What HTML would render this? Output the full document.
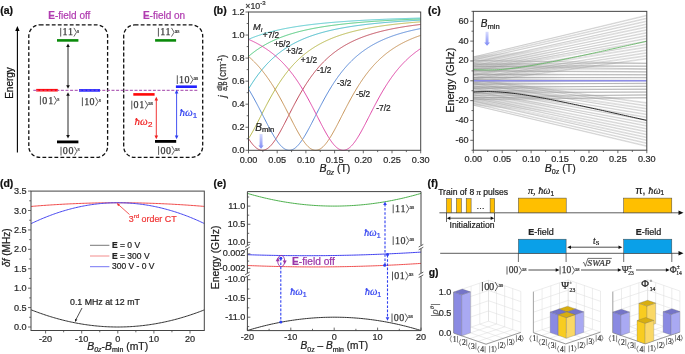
<!DOCTYPE html><html><head><meta charset="utf-8"><style>html,body{margin:0;padding:0;background:#fff;}svg{display:block;will-change:transform;}</style></head><body>
<svg width="685" height="354" viewBox="0 0 685 354">
<defs><linearGradient id="gblue" x1="0" y1="0" x2="0" y2="1"><stop offset="0" stop-color="#D8DCFF"/><stop offset="1" stop-color="#7C88F4"/></linearGradient><linearGradient id="hazec" x1="0" y1="0" x2="1" y2="0"><stop offset="0" stop-color="#999" stop-opacity="0.32"/><stop offset="0.5" stop-color="#999" stop-opacity="0.2"/><stop offset="1" stop-color="#999" stop-opacity="0"/></linearGradient></defs>
<rect width="685" height="354" fill="#fff"/>
<text x="0.2" y="14.4" font-size="10.4" text-anchor="start" font-family='"Liberation Sans", sans-serif' fill="#111" font-weight="bold" font-style="normal"  stroke="#111" stroke-width="0.22">(a)</text>
<line x1="17.4" y1="152.4" x2="17.4" y2="30" stroke="#000" stroke-width="1.1" />
<path d="M17.4,26 L19.6,31 L15.2,31 Z" fill="#000"/>
<text x="0" y="0" font-size="10" text-anchor="middle" font-family='"Liberation Sans", sans-serif' fill="#111" font-weight="normal" font-style="normal" transform="translate(13.3,83) rotate(-90)" stroke="#111" stroke-width="0.22">Energy</text>
<text x="69.3" y="18.5" font-size="10" text-anchor="middle" font-family='"Liberation Sans", sans-serif' fill="#B03CB0" stroke="#B03CB0" stroke-width="0.22"><tspan font-weight="bold">E</tspan>-field off</text>
<text x="164" y="18.5" font-size="10" text-anchor="middle" font-family='"Liberation Sans", sans-serif' fill="#B03CB0" stroke="#B03CB0" stroke-width="0.22"><tspan font-weight="bold">E</tspan>-field on</text>
<rect x="28.8" y="24.9" width="78.8" height="132.5" rx="11" ry="11" fill="none" stroke="#111" stroke-width="1.3" stroke-dasharray="3.8,2.2"/>
<rect x="123.7" y="24.9" width="79" height="132.5" rx="11" ry="11" fill="none" stroke="#111" stroke-width="1.3" stroke-dasharray="3.8,2.2"/>
<line x1="33.3" y1="90.3" x2="198.2" y2="90.3" stroke="#A040A8" stroke-width="1.0" stroke-dasharray="3,1.6"/>
<line x1="57" y1="40.4" x2="78.4" y2="40.4" stroke="#0A8A0A" stroke-width="2.6" />
<line x1="36.2" y1="90.2" x2="57.8" y2="90.2" stroke="#FF0808" stroke-width="2.6" />
<line x1="79" y1="90.4" x2="100" y2="90.4" stroke="#2222FF" stroke-width="2.6" />
<line x1="57" y1="141.9" x2="78.4" y2="141.9" stroke="#000" stroke-width="2.8" />
<line x1="36" y1="90.3" x2="58" y2="90.3" stroke="#D070D0" stroke-width="0.6" stroke-dasharray="2.5,1.6"/>
<line x1="79" y1="90.3" x2="100" y2="90.3" stroke="#B070D0" stroke-width="0.6" stroke-dasharray="2.5,1.6"/>
<line x1="68" y1="46" x2="68" y2="86" stroke="#111" stroke-width="0.9" />
<path d="M68,43.4 L69.8,47 L66.2,47 Z" fill="#111"/>
<path d="M68,88.8 L66.2,85.2 L69.8,85.2 Z" fill="#111"/>
<line x1="68" y1="95" x2="68" y2="136" stroke="#111" stroke-width="0.9" />
<path d="M68,92.2 L69.8,95.8 L66.2,95.8 Z" fill="#111"/>
<path d="M68,138.6 L66.2,135 L69.8,135 Z" fill="#111"/>
<line x1="155.1" y1="40.4" x2="176.1" y2="40.4" stroke="#0A8A0A" stroke-width="2.6" />
<line x1="175.9" y1="86.7" x2="196.9" y2="86.7" stroke="#2222FF" stroke-width="2.6" />
<line x1="133.3" y1="94.4" x2="154.6" y2="94.4" stroke="#FF0808" stroke-width="2.6" />
<line x1="155" y1="141.4" x2="176.2" y2="141.4" stroke="#000" stroke-width="2.8" />
<line x1="156.3" y1="99.5" x2="156.3" y2="136.5" stroke="#F02020" stroke-width="0.9" />
<path d="M156.3,96.8 L158.1,100.4 L154.5,100.4 Z" fill="#F02020"/>
<path d="M156.3,139.2 L154.5,135.6 L158.1,135.6 Z" fill="#F02020"/>
<line x1="176.6" y1="92.5" x2="176.6" y2="136.5" stroke="#3040F0" stroke-width="0.9" />
<path d="M176.6,89.8 L178.4,93.4 L174.8,93.4 Z" fill="#3040F0"/>
<path d="M176.6,139.2 L174.8,135.6 L178.4,135.6 Z" fill="#3040F0"/>
<line x1="60.7" y1="27.9" x2="60.7" y2="36.6" stroke="#3a3a3a" stroke-width="0.85"/><text x="62.5 68" y="35.3" font-size="10" font-family='"Liberation Serif", serif' fill="#3a3a3a" stroke="#3a3a3a" stroke-width="0.25">11</text><path d="M73.9,27.9 L76.5,32.25 L73.9,36.6" fill="none" stroke="#3a3a3a" stroke-width="0.77"/><text x="77.1" y="32.5" font-size="5.5" font-family='"Liberation Serif", serif' fill="#3a3a3a" stroke="#3a3a3a" stroke-width="0.22">s</text>
<line x1="40.4" y1="96.1" x2="40.4" y2="104.8" stroke="#3a3a3a" stroke-width="0.85"/><text x="42.2 48.2" y="103.5" font-size="10" font-family='"Liberation Serif", serif' fill="#3a3a3a" stroke="#3a3a3a" stroke-width="0.25">01</text><path d="M54.1,96.1 L56.7,100.45 L54.1,104.8" fill="none" stroke="#3a3a3a" stroke-width="0.77"/><text x="57.3" y="100.7" font-size="5.5" font-family='"Liberation Serif", serif' fill="#3a3a3a" stroke="#3a3a3a" stroke-width="0.22">s</text>
<line x1="82.4" y1="97.4" x2="82.4" y2="106.1" stroke="#3a3a3a" stroke-width="0.85"/><text x="84.2 89.6" y="104.8" font-size="10" font-family='"Liberation Serif", serif' fill="#3a3a3a" stroke="#3a3a3a" stroke-width="0.25">10</text><path d="M95.5,97.4 L98.1,101.75 L95.5,106.1" fill="none" stroke="#3a3a3a" stroke-width="0.77"/><text x="98.7" y="102" font-size="5.5" font-family='"Liberation Serif", serif' fill="#3a3a3a" stroke="#3a3a3a" stroke-width="0.22">s</text>
<line x1="61" y1="146.8" x2="61" y2="155.5" stroke="#3a3a3a" stroke-width="0.85"/><text x="62.8 68.5" y="154.2" font-size="10" font-family='"Liberation Serif", serif' fill="#3a3a3a" stroke="#3a3a3a" stroke-width="0.25">00</text><path d="M74.4,146.8 L77,151.15 L74.4,155.5" fill="none" stroke="#3a3a3a" stroke-width="0.77"/><text x="77.6" y="151.4" font-size="5.5" font-family='"Liberation Serif", serif' fill="#3a3a3a" stroke="#3a3a3a" stroke-width="0.22">s</text>
<line x1="158.4" y1="27.9" x2="158.4" y2="36.6" stroke="#3a3a3a" stroke-width="0.85"/><text x="160.2 165.6" y="35.3" font-size="10" font-family='"Liberation Serif", serif' fill="#3a3a3a" stroke="#3a3a3a" stroke-width="0.25">11</text><path d="M171.5,27.9 L174.1,32.25 L171.5,36.6" fill="none" stroke="#3a3a3a" stroke-width="0.77"/><text x="174.7" y="32.5" font-size="5.6" font-family='"Liberation Serif", serif' fill="#3a3a3a" stroke="#3a3a3a" stroke-width="0.22">as</text>
<line x1="177.3" y1="75.3" x2="177.3" y2="84" stroke="#3a3a3a" stroke-width="0.85"/><text x="179.1 184.5" y="82.7" font-size="10" font-family='"Liberation Serif", serif' fill="#3a3a3a" stroke="#3a3a3a" stroke-width="0.25">10</text><path d="M190.4,75.3 L193,79.65 L190.4,84" fill="none" stroke="#3a3a3a" stroke-width="0.77"/><text x="193.6" y="79.9" font-size="5.6" font-family='"Liberation Serif", serif' fill="#3a3a3a" stroke="#3a3a3a" stroke-width="0.22">as</text>
<line x1="131.8" y1="100.7" x2="131.8" y2="109.4" stroke="#3a3a3a" stroke-width="0.85"/><text x="133.6 139.2" y="108.1" font-size="10" font-family='"Liberation Serif", serif' fill="#3a3a3a" stroke="#3a3a3a" stroke-width="0.25">01</text><path d="M145.1,100.7 L147.7,105.05 L145.1,109.4" fill="none" stroke="#3a3a3a" stroke-width="0.77"/><text x="148.3" y="105.3" font-size="5.6" font-family='"Liberation Serif", serif' fill="#3a3a3a" stroke="#3a3a3a" stroke-width="0.22">as</text>
<line x1="158.6" y1="146.2" x2="158.6" y2="154.9" stroke="#3a3a3a" stroke-width="0.85"/><text x="160.4 166" y="153.6" font-size="10" font-family='"Liberation Serif", serif' fill="#3a3a3a" stroke="#3a3a3a" stroke-width="0.25">00</text><path d="M171.9,146.2 L174.5,150.55 L171.9,154.9" fill="none" stroke="#3a3a3a" stroke-width="0.77"/><text x="175.1" y="150.8" font-size="5.6" font-family='"Liberation Serif", serif' fill="#3a3a3a" stroke="#3a3a3a" stroke-width="0.22">as</text>
<text x="134.6" y="124.7" font-size="11" font-family='"Liberation Serif", serif' font-style="italic" fill="#F02020" stroke="#F02020" stroke-width="0.22">&#x127;&#x03C9;<tspan font-size="8" dy="2.2" font-style="normal" font-family='"Liberation Sans", sans-serif'>2</tspan></text>
<text x="179.5" y="115.7" font-size="11" font-family='"Liberation Serif", serif' font-style="italic" fill="#3040F0" stroke="#3040F0" stroke-width="0.22">&#x127;&#x03C9;<tspan font-size="8" dy="2.2" font-style="normal" font-family='"Liberation Sans", sans-serif'>1</tspan></text>
<text x="213.4" y="14.4" font-size="10.4" text-anchor="start" font-family='"Liberation Sans", sans-serif' fill="#111" font-weight="bold" font-style="normal"  stroke="#111" stroke-width="0.22">(b)</text>
<path d="M248.5,138.64 L249.07,137.74 L249.65,136.81 L250.22,135.87 L250.8,134.9 L251.37,133.92 L251.94,132.91 L252.52,131.9 L253.09,130.86 L253.67,129.81 L254.24,128.75 L254.81,127.68 L255.39,126.6 L255.96,125.51 L256.54,124.41 L257.11,123.3 L257.68,122.19 L258.26,121.07 L258.83,119.95 L259.41,118.82 L259.98,117.7 L260.55,116.57 L261.13,115.44 L261.7,114.32 L262.28,113.19 L262.85,112.07 L263.42,110.95 L264,109.83 L264.57,108.72 L265.15,107.61 L265.72,106.51 L266.29,105.41 L266.87,104.32 L267.44,103.24 L268.02,102.16 L268.59,101.1 L269.16,100.03 L269.74,98.98 L270.31,97.94 L270.89,96.91 L271.46,95.88 L272.03,94.87 L272.61,93.86 L273.18,92.86 L273.76,91.88 L274.33,90.9 L274.9,89.94 L275.48,88.99 L276.05,88.04 L276.63,87.11 L277.2,86.19 L277.77,85.28 L278.35,84.38 L278.92,83.49 L279.5,82.61 L280.07,81.75 L280.64,80.89 L281.22,80.05 L281.79,79.22 L282.37,78.39 L282.94,77.58 L283.51,76.78 L284.09,75.99 L284.66,75.21 L285.24,74.45 L285.81,73.69 L286.38,72.94 L286.96,72.21 L287.53,71.48 L288.11,70.77 L288.68,70.06 L289.25,69.37 L289.83,68.68 L290.4,68.01 L290.98,67.34 L291.55,66.69 L292.12,66.04 L292.7,65.4 L293.27,64.78 L293.85,64.16 L294.42,63.55 L294.99,62.95 L295.57,62.36 L296.14,61.78 L296.72,61.21 L297.29,60.64 L297.86,60.08 L298.44,59.54 L299.01,59 L299.59,58.46 L300.16,57.94 L300.73,57.42 L301.31,56.92 L301.88,56.42 L302.46,55.92 L303.03,55.44 L303.6,54.96 L304.18,54.49 L304.75,54.02 L305.33,53.56 L305.9,53.11 L306.47,52.67 L307.05,52.23 L307.62,51.8 L308.2,51.38 L308.77,50.96 L309.34,50.55 L309.92,50.14 L310.49,49.74 L311.07,49.35 L311.64,48.96 L312.21,48.58 L312.79,48.2 L313.36,47.83 L313.94,47.46 L314.51,47.1 L315.08,46.75 L315.66,46.39 L316.23,46.05 L316.81,45.71 L317.38,45.37 L317.95,45.04 L318.53,44.72 L319.1,44.4 L319.68,44.08 L320.25,43.77 L320.82,43.46 L321.4,43.16 L321.97,42.86 L322.55,42.56 L323.12,42.27 L323.69,41.99 L324.27,41.7 L324.84,41.43 L325.42,41.15 L325.99,40.88 L326.56,40.61 L327.14,40.35 L327.71,40.09 L328.29,39.83 L328.86,39.58 L329.43,39.33 L330.01,39.09 L330.58,38.84 L331.16,38.6 L331.73,38.37 L332.3,38.14 L332.88,37.91 L333.45,37.68 L334.03,37.46 L334.6,37.23 L335.17,37.02 L335.75,36.8 L336.32,36.59 L336.9,36.38 L337.47,36.17 L338.04,35.97 L338.62,35.77 L339.19,35.57 L339.77,35.38 L340.34,35.18 L340.91,34.99 L341.49,34.8 L342.06,34.62 L342.64,34.43 L343.21,34.25 L343.78,34.07 L344.36,33.9 L344.93,33.72 L345.51,33.55 L346.08,33.38 L346.65,33.21 L347.23,33.05 L347.8,32.88 L348.38,32.72 L348.95,32.56 L349.52,32.4 L350.1,32.25 L350.67,32.09 L351.25,31.94 L351.82,31.79 L352.39,31.64 L352.97,31.49 L353.54,31.35 L354.12,31.21 L354.69,31.07 L355.26,30.93 L355.84,30.79 L356.41,30.65 L356.99,30.52 L357.56,30.38 L358.13,30.25 L358.71,30.12 L359.28,29.99 L359.86,29.86 L360.43,29.74 L361,29.62 L361.58,29.49 L362.15,29.37 L362.73,29.25 L363.3,29.13 L363.87,29.01 L364.45,28.9 L365.02,28.78 L365.6,28.67 L366.17,28.56 L366.74,28.45 L367.32,28.34 L367.89,28.23 L368.47,28.12 L369.04,28.02 L369.61,27.91 L370.19,27.81 L370.76,27.71 L371.34,27.6 L371.91,27.5 L372.48,27.41 L373.06,27.31 L373.63,27.21 L374.21,27.11 L374.78,27.02 L375.35,26.93 L375.93,26.83 L376.5,26.74 L377.08,26.65 L377.65,26.56 L378.22,26.47 L378.8,26.38 L379.37,26.29 L379.95,26.21 L380.52,26.12 L381.09,26.04 L381.67,25.95 L382.24,25.87 L382.82,25.79 L383.39,25.71 L383.96,25.63 L384.54,25.55 L385.11,25.47 L385.69,25.39 L386.26,25.32 L386.83,25.24 L387.41,25.16 L387.98,25.09 L388.56,25.02 L389.13,24.94 L389.7,24.87 L390.28,24.8 L390.85,24.73 L391.43,24.66 L392,24.59 L392.57,24.52 L393.15,24.45 L393.72,24.38 L394.3,24.31 L394.87,24.25 L395.44,24.18 L396.02,24.12 L396.59,24.05 L397.17,23.99 L397.74,23.93 L398.31,23.86 L398.89,23.8 L399.46,23.74 L400.04,23.68 L400.61,23.62 L401.18,23.56 L401.76,23.5 L402.33,23.44 L402.91,23.38 L403.48,23.32 L404.05,23.27 L404.63,23.21 L405.2,23.16 L405.78,23.1 L406.35,23.04 L406.92,22.99 L407.5,22.94 L408.07,22.88 L408.65,22.83 L409.22,22.78 L409.79,22.73 L410.37,22.67 L410.94,22.62 L411.52,22.57 L412.09,22.52 L412.66,22.47 L413.24,22.42 L413.81,22.37 L414.39,22.33 L414.96,22.28 L415.53,22.23 L416.11,22.18 L416.68,22.14 L417.26,22.09 L417.83,22.04 L418.4,22 L418.98,21.95 L419.55,21.91 L420.13,21.86 L420.7,21.82" fill="none" stroke="#B8B84A" stroke-width="1.0" />
<path d="M248.5,138.64 L249.07,139.51 L249.65,140.36 L250.22,141.19 L250.8,141.98 L251.37,142.75 L251.94,143.48 L252.52,144.19 L253.09,144.86 L253.67,145.49 L254.24,146.09 L254.81,146.66 L255.39,147.18 L255.96,147.67 L256.54,148.12 L257.11,148.53 L257.68,148.9 L258.26,149.22 L258.83,149.51 L259.41,149.75 L259.98,149.95 L260.55,150.1 L261.13,150.21 L261.7,150.28 L262.28,150.3 L262.85,150.28 L263.42,150.21 L264,150.1 L264.57,149.95 L265.15,149.75 L265.72,149.51 L266.29,149.22 L266.87,148.9 L267.44,148.53 L268.02,148.12 L268.59,147.67 L269.16,147.18 L269.74,146.66 L270.31,146.09 L270.89,145.49 L271.46,144.86 L272.03,144.19 L272.61,143.48 L273.18,142.75 L273.76,141.98 L274.33,141.19 L274.9,140.36 L275.48,139.51 L276.05,138.64 L276.63,137.74 L277.2,136.81 L277.77,135.87 L278.35,134.9 L278.92,133.92 L279.5,132.91 L280.07,131.9 L280.64,130.86 L281.22,129.81 L281.79,128.75 L282.37,127.68 L282.94,126.6 L283.51,125.51 L284.09,124.41 L284.66,123.3 L285.24,122.19 L285.81,121.07 L286.38,119.95 L286.96,118.82 L287.53,117.7 L288.11,116.57 L288.68,115.44 L289.25,114.32 L289.83,113.19 L290.4,112.07 L290.98,110.95 L291.55,109.83 L292.12,108.72 L292.7,107.61 L293.27,106.51 L293.85,105.41 L294.42,104.32 L294.99,103.24 L295.57,102.16 L296.14,101.1 L296.72,100.03 L297.29,98.98 L297.86,97.94 L298.44,96.91 L299.01,95.88 L299.59,94.87 L300.16,93.86 L300.73,92.86 L301.31,91.88 L301.88,90.9 L302.46,89.94 L303.03,88.99 L303.6,88.04 L304.18,87.11 L304.75,86.19 L305.33,85.28 L305.9,84.38 L306.47,83.49 L307.05,82.61 L307.62,81.75 L308.2,80.89 L308.77,80.05 L309.34,79.22 L309.92,78.39 L310.49,77.58 L311.07,76.78 L311.64,75.99 L312.21,75.21 L312.79,74.45 L313.36,73.69 L313.94,72.94 L314.51,72.21 L315.08,71.48 L315.66,70.77 L316.23,70.06 L316.81,69.37 L317.38,68.68 L317.95,68.01 L318.53,67.34 L319.1,66.69 L319.68,66.04 L320.25,65.4 L320.82,64.78 L321.4,64.16 L321.97,63.55 L322.55,62.95 L323.12,62.36 L323.69,61.78 L324.27,61.21 L324.84,60.64 L325.42,60.08 L325.99,59.54 L326.56,59 L327.14,58.46 L327.71,57.94 L328.29,57.42 L328.86,56.92 L329.43,56.42 L330.01,55.92 L330.58,55.44 L331.16,54.96 L331.73,54.49 L332.3,54.02 L332.88,53.56 L333.45,53.11 L334.03,52.67 L334.6,52.23 L335.17,51.8 L335.75,51.38 L336.32,50.96 L336.9,50.55 L337.47,50.14 L338.04,49.74 L338.62,49.35 L339.19,48.96 L339.77,48.58 L340.34,48.2 L340.91,47.83 L341.49,47.46 L342.06,47.1 L342.64,46.75 L343.21,46.39 L343.78,46.05 L344.36,45.71 L344.93,45.37 L345.51,45.04 L346.08,44.72 L346.65,44.4 L347.23,44.08 L347.8,43.77 L348.38,43.46 L348.95,43.16 L349.52,42.86 L350.1,42.56 L350.67,42.27 L351.25,41.99 L351.82,41.7 L352.39,41.43 L352.97,41.15 L353.54,40.88 L354.12,40.61 L354.69,40.35 L355.26,40.09 L355.84,39.83 L356.41,39.58 L356.99,39.33 L357.56,39.09 L358.13,38.84 L358.71,38.6 L359.28,38.37 L359.86,38.14 L360.43,37.91 L361,37.68 L361.58,37.46 L362.15,37.23 L362.73,37.02 L363.3,36.8 L363.87,36.59 L364.45,36.38 L365.02,36.17 L365.6,35.97 L366.17,35.77 L366.74,35.57 L367.32,35.38 L367.89,35.18 L368.47,34.99 L369.04,34.8 L369.61,34.62 L370.19,34.43 L370.76,34.25 L371.34,34.07 L371.91,33.9 L372.48,33.72 L373.06,33.55 L373.63,33.38 L374.21,33.21 L374.78,33.05 L375.35,32.88 L375.93,32.72 L376.5,32.56 L377.08,32.4 L377.65,32.25 L378.22,32.09 L378.8,31.94 L379.37,31.79 L379.95,31.64 L380.52,31.49 L381.09,31.35 L381.67,31.21 L382.24,31.07 L382.82,30.93 L383.39,30.79 L383.96,30.65 L384.54,30.52 L385.11,30.38 L385.69,30.25 L386.26,30.12 L386.83,29.99 L387.41,29.86 L387.98,29.74 L388.56,29.62 L389.13,29.49 L389.7,29.37 L390.28,29.25 L390.85,29.13 L391.43,29.01 L392,28.9 L392.57,28.78 L393.15,28.67 L393.72,28.56 L394.3,28.45 L394.87,28.34 L395.44,28.23 L396.02,28.12 L396.59,28.02 L397.17,27.91 L397.74,27.81 L398.31,27.71 L398.89,27.6 L399.46,27.5 L400.04,27.41 L400.61,27.31 L401.18,27.21 L401.76,27.11 L402.33,27.02 L402.91,26.93 L403.48,26.83 L404.05,26.74 L404.63,26.65 L405.2,26.56 L405.78,26.47 L406.35,26.38 L406.92,26.29 L407.5,26.21 L408.07,26.12 L408.65,26.04 L409.22,25.95 L409.79,25.87 L410.37,25.79 L410.94,25.71 L411.52,25.63 L412.09,25.55 L412.66,25.47 L413.24,25.39 L413.81,25.32 L414.39,25.24 L414.96,25.16 L415.53,25.09 L416.11,25.02 L416.68,24.94 L417.26,24.87 L417.83,24.8 L418.4,24.73 L418.98,24.66 L419.55,24.59 L420.13,24.52 L420.7,24.45" fill="none" stroke="#C04858" stroke-width="1.0" />
<path d="M248.5,88.99 L249.07,88.04 L249.65,87.11 L250.22,86.19 L250.8,85.28 L251.37,84.38 L251.94,83.49 L252.52,82.61 L253.09,81.75 L253.67,80.89 L254.24,80.05 L254.81,79.22 L255.39,78.39 L255.96,77.58 L256.54,76.78 L257.11,75.99 L257.68,75.21 L258.26,74.45 L258.83,73.69 L259.41,72.94 L259.98,72.21 L260.55,71.48 L261.13,70.77 L261.7,70.06 L262.28,69.37 L262.85,68.68 L263.42,68.01 L264,67.34 L264.57,66.69 L265.15,66.04 L265.72,65.4 L266.29,64.78 L266.87,64.16 L267.44,63.55 L268.02,62.95 L268.59,62.36 L269.16,61.78 L269.74,61.21 L270.31,60.64 L270.89,60.08 L271.46,59.54 L272.03,59 L272.61,58.46 L273.18,57.94 L273.76,57.42 L274.33,56.92 L274.9,56.42 L275.48,55.92 L276.05,55.44 L276.63,54.96 L277.2,54.49 L277.77,54.02 L278.35,53.56 L278.92,53.11 L279.5,52.67 L280.07,52.23 L280.64,51.8 L281.22,51.38 L281.79,50.96 L282.37,50.55 L282.94,50.14 L283.51,49.74 L284.09,49.35 L284.66,48.96 L285.24,48.58 L285.81,48.2 L286.38,47.83 L286.96,47.46 L287.53,47.1 L288.11,46.75 L288.68,46.39 L289.25,46.05 L289.83,45.71 L290.4,45.37 L290.98,45.04 L291.55,44.72 L292.12,44.4 L292.7,44.08 L293.27,43.77 L293.85,43.46 L294.42,43.16 L294.99,42.86 L295.57,42.56 L296.14,42.27 L296.72,41.99 L297.29,41.7 L297.86,41.43 L298.44,41.15 L299.01,40.88 L299.59,40.61 L300.16,40.35 L300.73,40.09 L301.31,39.83 L301.88,39.58 L302.46,39.33 L303.03,39.09 L303.6,38.84 L304.18,38.6 L304.75,38.37 L305.33,38.14 L305.9,37.91 L306.47,37.68 L307.05,37.46 L307.62,37.23 L308.2,37.02 L308.77,36.8 L309.34,36.59 L309.92,36.38 L310.49,36.17 L311.07,35.97 L311.64,35.77 L312.21,35.57 L312.79,35.38 L313.36,35.18 L313.94,34.99 L314.51,34.8 L315.08,34.62 L315.66,34.43 L316.23,34.25 L316.81,34.07 L317.38,33.9 L317.95,33.72 L318.53,33.55 L319.1,33.38 L319.68,33.21 L320.25,33.05 L320.82,32.88 L321.4,32.72 L321.97,32.56 L322.55,32.4 L323.12,32.25 L323.69,32.09 L324.27,31.94 L324.84,31.79 L325.42,31.64 L325.99,31.49 L326.56,31.35 L327.14,31.21 L327.71,31.07 L328.29,30.93 L328.86,30.79 L329.43,30.65 L330.01,30.52 L330.58,30.38 L331.16,30.25 L331.73,30.12 L332.3,29.99 L332.88,29.86 L333.45,29.74 L334.03,29.62 L334.6,29.49 L335.17,29.37 L335.75,29.25 L336.32,29.13 L336.9,29.01 L337.47,28.9 L338.04,28.78 L338.62,28.67 L339.19,28.56 L339.77,28.45 L340.34,28.34 L340.91,28.23 L341.49,28.12 L342.06,28.02 L342.64,27.91 L343.21,27.81 L343.78,27.71 L344.36,27.6 L344.93,27.5 L345.51,27.41 L346.08,27.31 L346.65,27.21 L347.23,27.11 L347.8,27.02 L348.38,26.93 L348.95,26.83 L349.52,26.74 L350.1,26.65 L350.67,26.56 L351.25,26.47 L351.82,26.38 L352.39,26.29 L352.97,26.21 L353.54,26.12 L354.12,26.04 L354.69,25.95 L355.26,25.87 L355.84,25.79 L356.41,25.71 L356.99,25.63 L357.56,25.55 L358.13,25.47 L358.71,25.39 L359.28,25.32 L359.86,25.24 L360.43,25.16 L361,25.09 L361.58,25.02 L362.15,24.94 L362.73,24.87 L363.3,24.8 L363.87,24.73 L364.45,24.66 L365.02,24.59 L365.6,24.52 L366.17,24.45 L366.74,24.38 L367.32,24.31 L367.89,24.25 L368.47,24.18 L369.04,24.12 L369.61,24.05 L370.19,23.99 L370.76,23.93 L371.34,23.86 L371.91,23.8 L372.48,23.74 L373.06,23.68 L373.63,23.62 L374.21,23.56 L374.78,23.5 L375.35,23.44 L375.93,23.38 L376.5,23.32 L377.08,23.27 L377.65,23.21 L378.22,23.16 L378.8,23.1 L379.37,23.04 L379.95,22.99 L380.52,22.94 L381.09,22.88 L381.67,22.83 L382.24,22.78 L382.82,22.73 L383.39,22.67 L383.96,22.62 L384.54,22.57 L385.11,22.52 L385.69,22.47 L386.26,22.42 L386.83,22.37 L387.41,22.33 L387.98,22.28 L388.56,22.23 L389.13,22.18 L389.7,22.14 L390.28,22.09 L390.85,22.04 L391.43,22 L392,21.95 L392.57,21.91 L393.15,21.86 L393.72,21.82 L394.3,21.78 L394.87,21.73 L395.44,21.69 L396.02,21.65 L396.59,21.61 L397.17,21.56 L397.74,21.52 L398.31,21.48 L398.89,21.44 L399.46,21.4 L400.04,21.36 L400.61,21.32 L401.18,21.28 L401.76,21.24 L402.33,21.2 L402.91,21.16 L403.48,21.13 L404.05,21.09 L404.63,21.05 L405.2,21.01 L405.78,20.98 L406.35,20.94 L406.92,20.9 L407.5,20.87 L408.07,20.83 L408.65,20.8 L409.22,20.76 L409.79,20.73 L410.37,20.69 L410.94,20.66 L411.52,20.62 L412.09,20.59 L412.66,20.56 L413.24,20.52 L413.81,20.49 L414.39,20.46 L414.96,20.42 L415.53,20.39 L416.11,20.36 L416.68,20.33 L417.26,20.3 L417.83,20.27 L418.4,20.23 L418.98,20.2 L419.55,20.17 L420.13,20.14 L420.7,20.11" fill="none" stroke="#3EB8C8" stroke-width="1.0" />
<path d="M248.5,88.99 L249.07,89.94 L249.65,90.9 L250.22,91.88 L250.8,92.86 L251.37,93.86 L251.94,94.87 L252.52,95.88 L253.09,96.91 L253.67,97.94 L254.24,98.98 L254.81,100.03 L255.39,101.1 L255.96,102.16 L256.54,103.24 L257.11,104.32 L257.68,105.41 L258.26,106.51 L258.83,107.61 L259.41,108.72 L259.98,109.83 L260.55,110.95 L261.13,112.07 L261.7,113.19 L262.28,114.32 L262.85,115.44 L263.42,116.57 L264,117.7 L264.57,118.82 L265.15,119.95 L265.72,121.07 L266.29,122.19 L266.87,123.3 L267.44,124.41 L268.02,125.51 L268.59,126.6 L269.16,127.68 L269.74,128.75 L270.31,129.81 L270.89,130.86 L271.46,131.9 L272.03,132.91 L272.61,133.92 L273.18,134.9 L273.76,135.87 L274.33,136.81 L274.9,137.74 L275.48,138.64 L276.05,139.51 L276.63,140.36 L277.2,141.19 L277.77,141.98 L278.35,142.75 L278.92,143.48 L279.5,144.19 L280.07,144.86 L280.64,145.49 L281.22,146.09 L281.79,146.66 L282.37,147.18 L282.94,147.67 L283.51,148.12 L284.09,148.53 L284.66,148.9 L285.24,149.22 L285.81,149.51 L286.38,149.75 L286.96,149.95 L287.53,150.1 L288.11,150.21 L288.68,150.28 L289.25,150.3 L289.83,150.28 L290.4,150.21 L290.98,150.1 L291.55,149.95 L292.12,149.75 L292.7,149.51 L293.27,149.22 L293.85,148.9 L294.42,148.53 L294.99,148.12 L295.57,147.67 L296.14,147.18 L296.72,146.66 L297.29,146.09 L297.86,145.49 L298.44,144.86 L299.01,144.19 L299.59,143.48 L300.16,142.75 L300.73,141.98 L301.31,141.19 L301.88,140.36 L302.46,139.51 L303.03,138.64 L303.6,137.74 L304.18,136.81 L304.75,135.87 L305.33,134.9 L305.9,133.92 L306.47,132.91 L307.05,131.9 L307.62,130.86 L308.2,129.81 L308.77,128.75 L309.34,127.68 L309.92,126.6 L310.49,125.51 L311.07,124.41 L311.64,123.3 L312.21,122.19 L312.79,121.07 L313.36,119.95 L313.94,118.82 L314.51,117.7 L315.08,116.57 L315.66,115.44 L316.23,114.32 L316.81,113.19 L317.38,112.07 L317.95,110.95 L318.53,109.83 L319.1,108.72 L319.68,107.61 L320.25,106.51 L320.82,105.41 L321.4,104.32 L321.97,103.24 L322.55,102.16 L323.12,101.1 L323.69,100.03 L324.27,98.98 L324.84,97.94 L325.42,96.91 L325.99,95.88 L326.56,94.87 L327.14,93.86 L327.71,92.86 L328.29,91.88 L328.86,90.9 L329.43,89.94 L330.01,88.99 L330.58,88.04 L331.16,87.11 L331.73,86.19 L332.3,85.28 L332.88,84.38 L333.45,83.49 L334.03,82.61 L334.6,81.75 L335.17,80.89 L335.75,80.05 L336.32,79.22 L336.9,78.39 L337.47,77.58 L338.04,76.78 L338.62,75.99 L339.19,75.21 L339.77,74.45 L340.34,73.69 L340.91,72.94 L341.49,72.21 L342.06,71.48 L342.64,70.77 L343.21,70.06 L343.78,69.37 L344.36,68.68 L344.93,68.01 L345.51,67.34 L346.08,66.69 L346.65,66.04 L347.23,65.4 L347.8,64.78 L348.38,64.16 L348.95,63.55 L349.52,62.95 L350.1,62.36 L350.67,61.78 L351.25,61.21 L351.82,60.64 L352.39,60.08 L352.97,59.54 L353.54,59 L354.12,58.46 L354.69,57.94 L355.26,57.42 L355.84,56.92 L356.41,56.42 L356.99,55.92 L357.56,55.44 L358.13,54.96 L358.71,54.49 L359.28,54.02 L359.86,53.56 L360.43,53.11 L361,52.67 L361.58,52.23 L362.15,51.8 L362.73,51.38 L363.3,50.96 L363.87,50.55 L364.45,50.14 L365.02,49.74 L365.6,49.35 L366.17,48.96 L366.74,48.58 L367.32,48.2 L367.89,47.83 L368.47,47.46 L369.04,47.1 L369.61,46.75 L370.19,46.39 L370.76,46.05 L371.34,45.71 L371.91,45.37 L372.48,45.04 L373.06,44.72 L373.63,44.4 L374.21,44.08 L374.78,43.77 L375.35,43.46 L375.93,43.16 L376.5,42.86 L377.08,42.56 L377.65,42.27 L378.22,41.99 L378.8,41.7 L379.37,41.43 L379.95,41.15 L380.52,40.88 L381.09,40.61 L381.67,40.35 L382.24,40.09 L382.82,39.83 L383.39,39.58 L383.96,39.33 L384.54,39.09 L385.11,38.84 L385.69,38.6 L386.26,38.37 L386.83,38.14 L387.41,37.91 L387.98,37.68 L388.56,37.46 L389.13,37.23 L389.7,37.02 L390.28,36.8 L390.85,36.59 L391.43,36.38 L392,36.17 L392.57,35.97 L393.15,35.77 L393.72,35.57 L394.3,35.38 L394.87,35.18 L395.44,34.99 L396.02,34.8 L396.59,34.62 L397.17,34.43 L397.74,34.25 L398.31,34.07 L398.89,33.9 L399.46,33.72 L400.04,33.55 L400.61,33.38 L401.18,33.21 L401.76,33.05 L402.33,32.88 L402.91,32.72 L403.48,32.56 L404.05,32.4 L404.63,32.25 L405.2,32.09 L405.78,31.94 L406.35,31.79 L406.92,31.64 L407.5,31.49 L408.07,31.35 L408.65,31.21 L409.22,31.07 L409.79,30.93 L410.37,30.79 L410.94,30.65 L411.52,30.52 L412.09,30.38 L412.66,30.25 L413.24,30.12 L413.81,29.99 L414.39,29.86 L414.96,29.74 L415.53,29.62 L416.11,29.49 L416.68,29.37 L417.26,29.25 L417.83,29.13 L418.4,29.01 L418.98,28.9 L419.55,28.78 L420.13,28.67 L420.7,28.56" fill="none" stroke="#5A8AD8" stroke-width="1.0" />
<path d="M248.5,56.42 L249.07,55.92 L249.65,55.44 L250.22,54.96 L250.8,54.49 L251.37,54.02 L251.94,53.56 L252.52,53.11 L253.09,52.67 L253.67,52.23 L254.24,51.8 L254.81,51.38 L255.39,50.96 L255.96,50.55 L256.54,50.14 L257.11,49.74 L257.68,49.35 L258.26,48.96 L258.83,48.58 L259.41,48.2 L259.98,47.83 L260.55,47.46 L261.13,47.1 L261.7,46.75 L262.28,46.39 L262.85,46.05 L263.42,45.71 L264,45.37 L264.57,45.04 L265.15,44.72 L265.72,44.4 L266.29,44.08 L266.87,43.77 L267.44,43.46 L268.02,43.16 L268.59,42.86 L269.16,42.56 L269.74,42.27 L270.31,41.99 L270.89,41.7 L271.46,41.43 L272.03,41.15 L272.61,40.88 L273.18,40.61 L273.76,40.35 L274.33,40.09 L274.9,39.83 L275.48,39.58 L276.05,39.33 L276.63,39.09 L277.2,38.84 L277.77,38.6 L278.35,38.37 L278.92,38.14 L279.5,37.91 L280.07,37.68 L280.64,37.46 L281.22,37.23 L281.79,37.02 L282.37,36.8 L282.94,36.59 L283.51,36.38 L284.09,36.17 L284.66,35.97 L285.24,35.77 L285.81,35.57 L286.38,35.38 L286.96,35.18 L287.53,34.99 L288.11,34.8 L288.68,34.62 L289.25,34.43 L289.83,34.25 L290.4,34.07 L290.98,33.9 L291.55,33.72 L292.12,33.55 L292.7,33.38 L293.27,33.21 L293.85,33.05 L294.42,32.88 L294.99,32.72 L295.57,32.56 L296.14,32.4 L296.72,32.25 L297.29,32.09 L297.86,31.94 L298.44,31.79 L299.01,31.64 L299.59,31.49 L300.16,31.35 L300.73,31.21 L301.31,31.07 L301.88,30.93 L302.46,30.79 L303.03,30.65 L303.6,30.52 L304.18,30.38 L304.75,30.25 L305.33,30.12 L305.9,29.99 L306.47,29.86 L307.05,29.74 L307.62,29.62 L308.2,29.49 L308.77,29.37 L309.34,29.25 L309.92,29.13 L310.49,29.01 L311.07,28.9 L311.64,28.78 L312.21,28.67 L312.79,28.56 L313.36,28.45 L313.94,28.34 L314.51,28.23 L315.08,28.12 L315.66,28.02 L316.23,27.91 L316.81,27.81 L317.38,27.71 L317.95,27.6 L318.53,27.5 L319.1,27.41 L319.68,27.31 L320.25,27.21 L320.82,27.11 L321.4,27.02 L321.97,26.93 L322.55,26.83 L323.12,26.74 L323.69,26.65 L324.27,26.56 L324.84,26.47 L325.42,26.38 L325.99,26.29 L326.56,26.21 L327.14,26.12 L327.71,26.04 L328.29,25.95 L328.86,25.87 L329.43,25.79 L330.01,25.71 L330.58,25.63 L331.16,25.55 L331.73,25.47 L332.3,25.39 L332.88,25.32 L333.45,25.24 L334.03,25.16 L334.6,25.09 L335.17,25.02 L335.75,24.94 L336.32,24.87 L336.9,24.8 L337.47,24.73 L338.04,24.66 L338.62,24.59 L339.19,24.52 L339.77,24.45 L340.34,24.38 L340.91,24.31 L341.49,24.25 L342.06,24.18 L342.64,24.12 L343.21,24.05 L343.78,23.99 L344.36,23.93 L344.93,23.86 L345.51,23.8 L346.08,23.74 L346.65,23.68 L347.23,23.62 L347.8,23.56 L348.38,23.5 L348.95,23.44 L349.52,23.38 L350.1,23.32 L350.67,23.27 L351.25,23.21 L351.82,23.16 L352.39,23.1 L352.97,23.04 L353.54,22.99 L354.12,22.94 L354.69,22.88 L355.26,22.83 L355.84,22.78 L356.41,22.73 L356.99,22.67 L357.56,22.62 L358.13,22.57 L358.71,22.52 L359.28,22.47 L359.86,22.42 L360.43,22.37 L361,22.33 L361.58,22.28 L362.15,22.23 L362.73,22.18 L363.3,22.14 L363.87,22.09 L364.45,22.04 L365.02,22 L365.6,21.95 L366.17,21.91 L366.74,21.86 L367.32,21.82 L367.89,21.78 L368.47,21.73 L369.04,21.69 L369.61,21.65 L370.19,21.61 L370.76,21.56 L371.34,21.52 L371.91,21.48 L372.48,21.44 L373.06,21.4 L373.63,21.36 L374.21,21.32 L374.78,21.28 L375.35,21.24 L375.93,21.2 L376.5,21.16 L377.08,21.13 L377.65,21.09 L378.22,21.05 L378.8,21.01 L379.37,20.98 L379.95,20.94 L380.52,20.9 L381.09,20.87 L381.67,20.83 L382.24,20.8 L382.82,20.76 L383.39,20.73 L383.96,20.69 L384.54,20.66 L385.11,20.62 L385.69,20.59 L386.26,20.56 L386.83,20.52 L387.41,20.49 L387.98,20.46 L388.56,20.42 L389.13,20.39 L389.7,20.36 L390.28,20.33 L390.85,20.3 L391.43,20.27 L392,20.23 L392.57,20.2 L393.15,20.17 L393.72,20.14 L394.3,20.11 L394.87,20.08 L395.44,20.05 L396.02,20.02 L396.59,19.99 L397.17,19.97 L397.74,19.94 L398.31,19.91 L398.89,19.88 L399.46,19.85 L400.04,19.82 L400.61,19.8 L401.18,19.77 L401.76,19.74 L402.33,19.71 L402.91,19.69 L403.48,19.66 L404.05,19.63 L404.63,19.61 L405.2,19.58 L405.78,19.56 L406.35,19.53 L406.92,19.5 L407.5,19.48 L408.07,19.45 L408.65,19.43 L409.22,19.4 L409.79,19.38 L410.37,19.36 L410.94,19.33 L411.52,19.31 L412.09,19.28 L412.66,19.26 L413.24,19.24 L413.81,19.21 L414.39,19.19 L414.96,19.17 L415.53,19.14 L416.11,19.12 L416.68,19.1 L417.26,19.07 L417.83,19.05 L418.4,19.03 L418.98,19.01 L419.55,18.99 L420.13,18.96 L420.7,18.94" fill="none" stroke="#48C878" stroke-width="1.0" />
<path d="M248.5,56.42 L249.07,56.92 L249.65,57.42 L250.22,57.94 L250.8,58.46 L251.37,59 L251.94,59.54 L252.52,60.08 L253.09,60.64 L253.67,61.21 L254.24,61.78 L254.81,62.36 L255.39,62.95 L255.96,63.55 L256.54,64.16 L257.11,64.78 L257.68,65.4 L258.26,66.04 L258.83,66.69 L259.41,67.34 L259.98,68.01 L260.55,68.68 L261.13,69.37 L261.7,70.06 L262.28,70.77 L262.85,71.48 L263.42,72.21 L264,72.94 L264.57,73.69 L265.15,74.45 L265.72,75.21 L266.29,75.99 L266.87,76.78 L267.44,77.58 L268.02,78.39 L268.59,79.22 L269.16,80.05 L269.74,80.89 L270.31,81.75 L270.89,82.61 L271.46,83.49 L272.03,84.38 L272.61,85.28 L273.18,86.19 L273.76,87.11 L274.33,88.04 L274.9,88.99 L275.48,89.94 L276.05,90.9 L276.63,91.88 L277.2,92.86 L277.77,93.86 L278.35,94.87 L278.92,95.88 L279.5,96.91 L280.07,97.94 L280.64,98.98 L281.22,100.03 L281.79,101.1 L282.37,102.16 L282.94,103.24 L283.51,104.32 L284.09,105.41 L284.66,106.51 L285.24,107.61 L285.81,108.72 L286.38,109.83 L286.96,110.95 L287.53,112.07 L288.11,113.19 L288.68,114.32 L289.25,115.44 L289.83,116.57 L290.4,117.7 L290.98,118.82 L291.55,119.95 L292.12,121.07 L292.7,122.19 L293.27,123.3 L293.85,124.41 L294.42,125.51 L294.99,126.6 L295.57,127.68 L296.14,128.75 L296.72,129.81 L297.29,130.86 L297.86,131.9 L298.44,132.91 L299.01,133.92 L299.59,134.9 L300.16,135.87 L300.73,136.81 L301.31,137.74 L301.88,138.64 L302.46,139.51 L303.03,140.36 L303.6,141.19 L304.18,141.98 L304.75,142.75 L305.33,143.48 L305.9,144.19 L306.47,144.86 L307.05,145.49 L307.62,146.09 L308.2,146.66 L308.77,147.18 L309.34,147.67 L309.92,148.12 L310.49,148.53 L311.07,148.9 L311.64,149.22 L312.21,149.51 L312.79,149.75 L313.36,149.95 L313.94,150.1 L314.51,150.21 L315.08,150.28 L315.66,150.3 L316.23,150.28 L316.81,150.21 L317.38,150.1 L317.95,149.95 L318.53,149.75 L319.1,149.51 L319.68,149.22 L320.25,148.9 L320.82,148.53 L321.4,148.12 L321.97,147.67 L322.55,147.18 L323.12,146.66 L323.69,146.09 L324.27,145.49 L324.84,144.86 L325.42,144.19 L325.99,143.48 L326.56,142.75 L327.14,141.98 L327.71,141.19 L328.29,140.36 L328.86,139.51 L329.43,138.64 L330.01,137.74 L330.58,136.81 L331.16,135.87 L331.73,134.9 L332.3,133.92 L332.88,132.91 L333.45,131.9 L334.03,130.86 L334.6,129.81 L335.17,128.75 L335.75,127.68 L336.32,126.6 L336.9,125.51 L337.47,124.41 L338.04,123.3 L338.62,122.19 L339.19,121.07 L339.77,119.95 L340.34,118.82 L340.91,117.7 L341.49,116.57 L342.06,115.44 L342.64,114.32 L343.21,113.19 L343.78,112.07 L344.36,110.95 L344.93,109.83 L345.51,108.72 L346.08,107.61 L346.65,106.51 L347.23,105.41 L347.8,104.32 L348.38,103.24 L348.95,102.16 L349.52,101.1 L350.1,100.03 L350.67,98.98 L351.25,97.94 L351.82,96.91 L352.39,95.88 L352.97,94.87 L353.54,93.86 L354.12,92.86 L354.69,91.88 L355.26,90.9 L355.84,89.94 L356.41,88.99 L356.99,88.04 L357.56,87.11 L358.13,86.19 L358.71,85.28 L359.28,84.38 L359.86,83.49 L360.43,82.61 L361,81.75 L361.58,80.89 L362.15,80.05 L362.73,79.22 L363.3,78.39 L363.87,77.58 L364.45,76.78 L365.02,75.99 L365.6,75.21 L366.17,74.45 L366.74,73.69 L367.32,72.94 L367.89,72.21 L368.47,71.48 L369.04,70.77 L369.61,70.06 L370.19,69.37 L370.76,68.68 L371.34,68.01 L371.91,67.34 L372.48,66.69 L373.06,66.04 L373.63,65.4 L374.21,64.78 L374.78,64.16 L375.35,63.55 L375.93,62.95 L376.5,62.36 L377.08,61.78 L377.65,61.21 L378.22,60.64 L378.8,60.08 L379.37,59.54 L379.95,59 L380.52,58.46 L381.09,57.94 L381.67,57.42 L382.24,56.92 L382.82,56.42 L383.39,55.92 L383.96,55.44 L384.54,54.96 L385.11,54.49 L385.69,54.02 L386.26,53.56 L386.83,53.11 L387.41,52.67 L387.98,52.23 L388.56,51.8 L389.13,51.38 L389.7,50.96 L390.28,50.55 L390.85,50.14 L391.43,49.74 L392,49.35 L392.57,48.96 L393.15,48.58 L393.72,48.2 L394.3,47.83 L394.87,47.46 L395.44,47.1 L396.02,46.75 L396.59,46.39 L397.17,46.05 L397.74,45.71 L398.31,45.37 L398.89,45.04 L399.46,44.72 L400.04,44.4 L400.61,44.08 L401.18,43.77 L401.76,43.46 L402.33,43.16 L402.91,42.86 L403.48,42.56 L404.05,42.27 L404.63,41.99 L405.2,41.7 L405.78,41.43 L406.35,41.15 L406.92,40.88 L407.5,40.61 L408.07,40.35 L408.65,40.09 L409.22,39.83 L409.79,39.58 L410.37,39.33 L410.94,39.09 L411.52,38.84 L412.09,38.6 L412.66,38.37 L413.24,38.14 L413.81,37.91 L414.39,37.68 L414.96,37.46 L415.53,37.23 L416.11,37.02 L416.68,36.8 L417.26,36.59 L417.83,36.38 L418.4,36.17 L418.98,35.97 L419.55,35.77 L420.13,35.57 L420.7,35.38" fill="none" stroke="#C89458" stroke-width="1.0" />
<path d="M248.5,39.33 L249.07,39.09 L249.65,38.84 L250.22,38.6 L250.8,38.37 L251.37,38.14 L251.94,37.91 L252.52,37.68 L253.09,37.46 L253.67,37.23 L254.24,37.02 L254.81,36.8 L255.39,36.59 L255.96,36.38 L256.54,36.17 L257.11,35.97 L257.68,35.77 L258.26,35.57 L258.83,35.38 L259.41,35.18 L259.98,34.99 L260.55,34.8 L261.13,34.62 L261.7,34.43 L262.28,34.25 L262.85,34.07 L263.42,33.9 L264,33.72 L264.57,33.55 L265.15,33.38 L265.72,33.21 L266.29,33.05 L266.87,32.88 L267.44,32.72 L268.02,32.56 L268.59,32.4 L269.16,32.25 L269.74,32.09 L270.31,31.94 L270.89,31.79 L271.46,31.64 L272.03,31.49 L272.61,31.35 L273.18,31.21 L273.76,31.07 L274.33,30.93 L274.9,30.79 L275.48,30.65 L276.05,30.52 L276.63,30.38 L277.2,30.25 L277.77,30.12 L278.35,29.99 L278.92,29.86 L279.5,29.74 L280.07,29.62 L280.64,29.49 L281.22,29.37 L281.79,29.25 L282.37,29.13 L282.94,29.01 L283.51,28.9 L284.09,28.78 L284.66,28.67 L285.24,28.56 L285.81,28.45 L286.38,28.34 L286.96,28.23 L287.53,28.12 L288.11,28.02 L288.68,27.91 L289.25,27.81 L289.83,27.71 L290.4,27.6 L290.98,27.5 L291.55,27.41 L292.12,27.31 L292.7,27.21 L293.27,27.11 L293.85,27.02 L294.42,26.93 L294.99,26.83 L295.57,26.74 L296.14,26.65 L296.72,26.56 L297.29,26.47 L297.86,26.38 L298.44,26.29 L299.01,26.21 L299.59,26.12 L300.16,26.04 L300.73,25.95 L301.31,25.87 L301.88,25.79 L302.46,25.71 L303.03,25.63 L303.6,25.55 L304.18,25.47 L304.75,25.39 L305.33,25.32 L305.9,25.24 L306.47,25.16 L307.05,25.09 L307.62,25.02 L308.2,24.94 L308.77,24.87 L309.34,24.8 L309.92,24.73 L310.49,24.66 L311.07,24.59 L311.64,24.52 L312.21,24.45 L312.79,24.38 L313.36,24.31 L313.94,24.25 L314.51,24.18 L315.08,24.12 L315.66,24.05 L316.23,23.99 L316.81,23.93 L317.38,23.86 L317.95,23.8 L318.53,23.74 L319.1,23.68 L319.68,23.62 L320.25,23.56 L320.82,23.5 L321.4,23.44 L321.97,23.38 L322.55,23.32 L323.12,23.27 L323.69,23.21 L324.27,23.16 L324.84,23.1 L325.42,23.04 L325.99,22.99 L326.56,22.94 L327.14,22.88 L327.71,22.83 L328.29,22.78 L328.86,22.73 L329.43,22.67 L330.01,22.62 L330.58,22.57 L331.16,22.52 L331.73,22.47 L332.3,22.42 L332.88,22.37 L333.45,22.33 L334.03,22.28 L334.6,22.23 L335.17,22.18 L335.75,22.14 L336.32,22.09 L336.9,22.04 L337.47,22 L338.04,21.95 L338.62,21.91 L339.19,21.86 L339.77,21.82 L340.34,21.78 L340.91,21.73 L341.49,21.69 L342.06,21.65 L342.64,21.61 L343.21,21.56 L343.78,21.52 L344.36,21.48 L344.93,21.44 L345.51,21.4 L346.08,21.36 L346.65,21.32 L347.23,21.28 L347.8,21.24 L348.38,21.2 L348.95,21.16 L349.52,21.13 L350.1,21.09 L350.67,21.05 L351.25,21.01 L351.82,20.98 L352.39,20.94 L352.97,20.9 L353.54,20.87 L354.12,20.83 L354.69,20.8 L355.26,20.76 L355.84,20.73 L356.41,20.69 L356.99,20.66 L357.56,20.62 L358.13,20.59 L358.71,20.56 L359.28,20.52 L359.86,20.49 L360.43,20.46 L361,20.42 L361.58,20.39 L362.15,20.36 L362.73,20.33 L363.3,20.3 L363.87,20.27 L364.45,20.23 L365.02,20.2 L365.6,20.17 L366.17,20.14 L366.74,20.11 L367.32,20.08 L367.89,20.05 L368.47,20.02 L369.04,19.99 L369.61,19.97 L370.19,19.94 L370.76,19.91 L371.34,19.88 L371.91,19.85 L372.48,19.82 L373.06,19.8 L373.63,19.77 L374.21,19.74 L374.78,19.71 L375.35,19.69 L375.93,19.66 L376.5,19.63 L377.08,19.61 L377.65,19.58 L378.22,19.56 L378.8,19.53 L379.37,19.5 L379.95,19.48 L380.52,19.45 L381.09,19.43 L381.67,19.4 L382.24,19.38 L382.82,19.36 L383.39,19.33 L383.96,19.31 L384.54,19.28 L385.11,19.26 L385.69,19.24 L386.26,19.21 L386.83,19.19 L387.41,19.17 L387.98,19.14 L388.56,19.12 L389.13,19.1 L389.7,19.07 L390.28,19.05 L390.85,19.03 L391.43,19.01 L392,18.99 L392.57,18.96 L393.15,18.94 L393.72,18.92 L394.3,18.9 L394.87,18.88 L395.44,18.86 L396.02,18.84 L396.59,18.82 L397.17,18.8 L397.74,18.78 L398.31,18.76 L398.89,18.74 L399.46,18.72 L400.04,18.7 L400.61,18.68 L401.18,18.66 L401.76,18.64 L402.33,18.62 L402.91,18.6 L403.48,18.58 L404.05,18.56 L404.63,18.54 L405.2,18.52 L405.78,18.5 L406.35,18.49 L406.92,18.47 L407.5,18.45 L408.07,18.43 L408.65,18.41 L409.22,18.39 L409.79,18.38 L410.37,18.36 L410.94,18.34 L411.52,18.32 L412.09,18.31 L412.66,18.29 L413.24,18.27 L413.81,18.26 L414.39,18.24 L414.96,18.22 L415.53,18.21 L416.11,18.19 L416.68,18.17 L417.26,18.16 L417.83,18.14 L418.4,18.12 L418.98,18.11 L419.55,18.09 L420.13,18.08 L420.7,18.06" fill="none" stroke="#50C8CC" stroke-width="1.0" />
<path d="M248.5,39.33 L249.07,39.58 L249.65,39.83 L250.22,40.09 L250.8,40.35 L251.37,40.61 L251.94,40.88 L252.52,41.15 L253.09,41.43 L253.67,41.7 L254.24,41.99 L254.81,42.27 L255.39,42.56 L255.96,42.86 L256.54,43.16 L257.11,43.46 L257.68,43.77 L258.26,44.08 L258.83,44.4 L259.41,44.72 L259.98,45.04 L260.55,45.37 L261.13,45.71 L261.7,46.05 L262.28,46.39 L262.85,46.75 L263.42,47.1 L264,47.46 L264.57,47.83 L265.15,48.2 L265.72,48.58 L266.29,48.96 L266.87,49.35 L267.44,49.74 L268.02,50.14 L268.59,50.55 L269.16,50.96 L269.74,51.38 L270.31,51.8 L270.89,52.23 L271.46,52.67 L272.03,53.11 L272.61,53.56 L273.18,54.02 L273.76,54.49 L274.33,54.96 L274.9,55.44 L275.48,55.92 L276.05,56.42 L276.63,56.92 L277.2,57.42 L277.77,57.94 L278.35,58.46 L278.92,59 L279.5,59.54 L280.07,60.08 L280.64,60.64 L281.22,61.21 L281.79,61.78 L282.37,62.36 L282.94,62.95 L283.51,63.55 L284.09,64.16 L284.66,64.78 L285.24,65.4 L285.81,66.04 L286.38,66.69 L286.96,67.34 L287.53,68.01 L288.11,68.68 L288.68,69.37 L289.25,70.06 L289.83,70.77 L290.4,71.48 L290.98,72.21 L291.55,72.94 L292.12,73.69 L292.7,74.45 L293.27,75.21 L293.85,75.99 L294.42,76.78 L294.99,77.58 L295.57,78.39 L296.14,79.22 L296.72,80.05 L297.29,80.89 L297.86,81.75 L298.44,82.61 L299.01,83.49 L299.59,84.38 L300.16,85.28 L300.73,86.19 L301.31,87.11 L301.88,88.04 L302.46,88.99 L303.03,89.94 L303.6,90.9 L304.18,91.88 L304.75,92.86 L305.33,93.86 L305.9,94.87 L306.47,95.88 L307.05,96.91 L307.62,97.94 L308.2,98.98 L308.77,100.03 L309.34,101.1 L309.92,102.16 L310.49,103.24 L311.07,104.32 L311.64,105.41 L312.21,106.51 L312.79,107.61 L313.36,108.72 L313.94,109.83 L314.51,110.95 L315.08,112.07 L315.66,113.19 L316.23,114.32 L316.81,115.44 L317.38,116.57 L317.95,117.7 L318.53,118.82 L319.1,119.95 L319.68,121.07 L320.25,122.19 L320.82,123.3 L321.4,124.41 L321.97,125.51 L322.55,126.6 L323.12,127.68 L323.69,128.75 L324.27,129.81 L324.84,130.86 L325.42,131.9 L325.99,132.91 L326.56,133.92 L327.14,134.9 L327.71,135.87 L328.29,136.81 L328.86,137.74 L329.43,138.64 L330.01,139.51 L330.58,140.36 L331.16,141.19 L331.73,141.98 L332.3,142.75 L332.88,143.48 L333.45,144.19 L334.03,144.86 L334.6,145.49 L335.17,146.09 L335.75,146.66 L336.32,147.18 L336.9,147.67 L337.47,148.12 L338.04,148.53 L338.62,148.9 L339.19,149.22 L339.77,149.51 L340.34,149.75 L340.91,149.95 L341.49,150.1 L342.06,150.21 L342.64,150.28 L343.21,150.3 L343.78,150.28 L344.36,150.21 L344.93,150.1 L345.51,149.95 L346.08,149.75 L346.65,149.51 L347.23,149.22 L347.8,148.9 L348.38,148.53 L348.95,148.12 L349.52,147.67 L350.1,147.18 L350.67,146.66 L351.25,146.09 L351.82,145.49 L352.39,144.86 L352.97,144.19 L353.54,143.48 L354.12,142.75 L354.69,141.98 L355.26,141.19 L355.84,140.36 L356.41,139.51 L356.99,138.64 L357.56,137.74 L358.13,136.81 L358.71,135.87 L359.28,134.9 L359.86,133.92 L360.43,132.91 L361,131.9 L361.58,130.86 L362.15,129.81 L362.73,128.75 L363.3,127.68 L363.87,126.6 L364.45,125.51 L365.02,124.41 L365.6,123.3 L366.17,122.19 L366.74,121.07 L367.32,119.95 L367.89,118.82 L368.47,117.7 L369.04,116.57 L369.61,115.44 L370.19,114.32 L370.76,113.19 L371.34,112.07 L371.91,110.95 L372.48,109.83 L373.06,108.72 L373.63,107.61 L374.21,106.51 L374.78,105.41 L375.35,104.32 L375.93,103.24 L376.5,102.16 L377.08,101.1 L377.65,100.03 L378.22,98.98 L378.8,97.94 L379.37,96.91 L379.95,95.88 L380.52,94.87 L381.09,93.86 L381.67,92.86 L382.24,91.88 L382.82,90.9 L383.39,89.94 L383.96,88.99 L384.54,88.04 L385.11,87.11 L385.69,86.19 L386.26,85.28 L386.83,84.38 L387.41,83.49 L387.98,82.61 L388.56,81.75 L389.13,80.89 L389.7,80.05 L390.28,79.22 L390.85,78.39 L391.43,77.58 L392,76.78 L392.57,75.99 L393.15,75.21 L393.72,74.45 L394.3,73.69 L394.87,72.94 L395.44,72.21 L396.02,71.48 L396.59,70.77 L397.17,70.06 L397.74,69.37 L398.31,68.68 L398.89,68.01 L399.46,67.34 L400.04,66.69 L400.61,66.04 L401.18,65.4 L401.76,64.78 L402.33,64.16 L402.91,63.55 L403.48,62.95 L404.05,62.36 L404.63,61.78 L405.2,61.21 L405.78,60.64 L406.35,60.08 L406.92,59.54 L407.5,59 L408.07,58.46 L408.65,57.94 L409.22,57.42 L409.79,56.92 L410.37,56.42 L410.94,55.92 L411.52,55.44 L412.09,54.96 L412.66,54.49 L413.24,54.02 L413.81,53.56 L414.39,53.11 L414.96,52.67 L415.53,52.23 L416.11,51.8 L416.68,51.38 L417.26,50.96 L417.83,50.55 L418.4,50.14 L418.98,49.74 L419.55,49.35 L420.13,48.96 L420.7,48.58" fill="none" stroke="#E048A8" stroke-width="1.0" />
<rect x="248.5" y="12.0" width="172.2" height="138.3" fill="none" stroke="#444" stroke-width="1"/>
<line x1="248.5" y1="150.3" x2="248.5" y2="153.3" stroke="#444" stroke-width="0.8" />
<line x1="248.5" y1="12" x2="248.5" y2="12" stroke="#444" stroke-width="0.8" />
<line x1="262.85" y1="150.3" x2="262.85" y2="152.1" stroke="#444" stroke-width="0.8" />
<line x1="262.85" y1="12" x2="262.85" y2="12" stroke="#444" stroke-width="0.8" />
<line x1="277.2" y1="150.3" x2="277.2" y2="153.3" stroke="#444" stroke-width="0.8" />
<line x1="277.2" y1="12" x2="277.2" y2="12" stroke="#444" stroke-width="0.8" />
<line x1="291.55" y1="150.3" x2="291.55" y2="152.1" stroke="#444" stroke-width="0.8" />
<line x1="291.55" y1="12" x2="291.55" y2="12" stroke="#444" stroke-width="0.8" />
<line x1="305.9" y1="150.3" x2="305.9" y2="153.3" stroke="#444" stroke-width="0.8" />
<line x1="305.9" y1="12" x2="305.9" y2="12" stroke="#444" stroke-width="0.8" />
<line x1="320.25" y1="150.3" x2="320.25" y2="152.1" stroke="#444" stroke-width="0.8" />
<line x1="320.25" y1="12" x2="320.25" y2="12" stroke="#444" stroke-width="0.8" />
<line x1="334.6" y1="150.3" x2="334.6" y2="153.3" stroke="#444" stroke-width="0.8" />
<line x1="334.6" y1="12" x2="334.6" y2="12" stroke="#444" stroke-width="0.8" />
<line x1="348.95" y1="150.3" x2="348.95" y2="152.1" stroke="#444" stroke-width="0.8" />
<line x1="348.95" y1="12" x2="348.95" y2="12" stroke="#444" stroke-width="0.8" />
<line x1="363.3" y1="150.3" x2="363.3" y2="153.3" stroke="#444" stroke-width="0.8" />
<line x1="363.3" y1="12" x2="363.3" y2="12" stroke="#444" stroke-width="0.8" />
<line x1="377.65" y1="150.3" x2="377.65" y2="152.1" stroke="#444" stroke-width="0.8" />
<line x1="377.65" y1="12" x2="377.65" y2="12" stroke="#444" stroke-width="0.8" />
<line x1="392" y1="150.3" x2="392" y2="153.3" stroke="#444" stroke-width="0.8" />
<line x1="392" y1="12" x2="392" y2="12" stroke="#444" stroke-width="0.8" />
<line x1="406.35" y1="150.3" x2="406.35" y2="152.1" stroke="#444" stroke-width="0.8" />
<line x1="406.35" y1="12" x2="406.35" y2="12" stroke="#444" stroke-width="0.8" />
<line x1="420.7" y1="150.3" x2="420.7" y2="153.3" stroke="#444" stroke-width="0.8" />
<line x1="420.7" y1="12" x2="420.7" y2="12" stroke="#444" stroke-width="0.8" />
<line x1="248.5" y1="150.3" x2="245.5" y2="150.3" stroke="#444" stroke-width="0.8" />
<line x1="248.5" y1="138.78" x2="246.7" y2="138.78" stroke="#444" stroke-width="0.8" />
<line x1="248.5" y1="127.25" x2="245.5" y2="127.25" stroke="#444" stroke-width="0.8" />
<line x1="248.5" y1="115.72" x2="246.7" y2="115.72" stroke="#444" stroke-width="0.8" />
<line x1="248.5" y1="104.2" x2="245.5" y2="104.2" stroke="#444" stroke-width="0.8" />
<line x1="248.5" y1="92.68" x2="246.7" y2="92.68" stroke="#444" stroke-width="0.8" />
<line x1="248.5" y1="81.15" x2="245.5" y2="81.15" stroke="#444" stroke-width="0.8" />
<line x1="248.5" y1="69.62" x2="246.7" y2="69.62" stroke="#444" stroke-width="0.8" />
<line x1="248.5" y1="58.1" x2="245.5" y2="58.1" stroke="#444" stroke-width="0.8" />
<line x1="248.5" y1="46.58" x2="246.7" y2="46.58" stroke="#444" stroke-width="0.8" />
<line x1="248.5" y1="35.05" x2="245.5" y2="35.05" stroke="#444" stroke-width="0.8" />
<line x1="248.5" y1="23.52" x2="246.7" y2="23.52" stroke="#444" stroke-width="0.8" />
<line x1="248.5" y1="12" x2="245.5" y2="12" stroke="#444" stroke-width="0.8" />
<text x="248.5" y="162.5" font-size="9.1" text-anchor="middle" font-family='"Liberation Sans", sans-serif' fill="#2a2a2a" font-weight="normal" font-style="normal"  stroke="#2a2a2a" stroke-width="0.22">0.00</text>
<text x="277.2" y="162.5" font-size="9.1" text-anchor="middle" font-family='"Liberation Sans", sans-serif' fill="#2a2a2a" font-weight="normal" font-style="normal"  stroke="#2a2a2a" stroke-width="0.22">0.05</text>
<text x="305.9" y="162.5" font-size="9.1" text-anchor="middle" font-family='"Liberation Sans", sans-serif' fill="#2a2a2a" font-weight="normal" font-style="normal"  stroke="#2a2a2a" stroke-width="0.22">0.10</text>
<text x="334.6" y="162.5" font-size="9.1" text-anchor="middle" font-family='"Liberation Sans", sans-serif' fill="#2a2a2a" font-weight="normal" font-style="normal"  stroke="#2a2a2a" stroke-width="0.22">0.15</text>
<text x="363.3" y="162.5" font-size="9.1" text-anchor="middle" font-family='"Liberation Sans", sans-serif' fill="#2a2a2a" font-weight="normal" font-style="normal"  stroke="#2a2a2a" stroke-width="0.22">0.20</text>
<text x="392" y="162.5" font-size="9.1" text-anchor="middle" font-family='"Liberation Sans", sans-serif' fill="#2a2a2a" font-weight="normal" font-style="normal"  stroke="#2a2a2a" stroke-width="0.22">0.25</text>
<text x="420.7" y="162.5" font-size="9.1" text-anchor="middle" font-family='"Liberation Sans", sans-serif' fill="#2a2a2a" font-weight="normal" font-style="normal"  stroke="#2a2a2a" stroke-width="0.22">0.30</text>
<text x="244.6" y="152.9" font-size="9.1" text-anchor="end" font-family='"Liberation Sans", sans-serif' fill="#2a2a2a" font-weight="normal" font-style="normal"  stroke="#2a2a2a" stroke-width="0.22">0.0</text>
<text x="244.6" y="129.85" font-size="9.1" text-anchor="end" font-family='"Liberation Sans", sans-serif' fill="#2a2a2a" font-weight="normal" font-style="normal"  stroke="#2a2a2a" stroke-width="0.22">0.2</text>
<text x="244.6" y="106.8" font-size="9.1" text-anchor="end" font-family='"Liberation Sans", sans-serif' fill="#2a2a2a" font-weight="normal" font-style="normal"  stroke="#2a2a2a" stroke-width="0.22">0.4</text>
<text x="244.6" y="83.75" font-size="9.1" text-anchor="end" font-family='"Liberation Sans", sans-serif' fill="#2a2a2a" font-weight="normal" font-style="normal"  stroke="#2a2a2a" stroke-width="0.22">0.6</text>
<text x="244.6" y="60.7" font-size="9.1" text-anchor="end" font-family='"Liberation Sans", sans-serif' fill="#2a2a2a" font-weight="normal" font-style="normal"  stroke="#2a2a2a" stroke-width="0.22">0.8</text>
<text x="244.6" y="37.65" font-size="9.1" text-anchor="end" font-family='"Liberation Sans", sans-serif' fill="#2a2a2a" font-weight="normal" font-style="normal"  stroke="#2a2a2a" stroke-width="0.22">1.0</text>
<text x="244.6" y="14.6" font-size="9.1" text-anchor="end" font-family='"Liberation Sans", sans-serif' fill="#2a2a2a" font-weight="normal" font-style="normal"  stroke="#2a2a2a" stroke-width="0.22">1.2</text>
<text x="245.3" y="9" font-size="8.8" text-anchor="start" font-family='"Liberation Sans", sans-serif' fill="#333" font-weight="normal" font-style="normal"  stroke="#333" stroke-width="0.22">&#215;10<tspan font-size="6" dy="-4">-3</tspan></text>
<text x="334.9" y="172" font-size="10.5" text-anchor="middle" font-family='"Liberation Sans", sans-serif' fill="#222" stroke="#222" stroke-width="0.22"><tspan font-style="italic">B</tspan><tspan font-size="7.2" dy="2.6" font-style="italic">0z</tspan><tspan dy="-2.6"> (T)</tspan></text>
<g transform="translate(226,97.5) rotate(-90)" font-family='"Liberation Sans", sans-serif' fill="#333" stroke="#333" stroke-width="0.22"><text x="0" y="0" font-size="10" font-style="italic">j</text><text x="6.8" y="-3.6" font-size="6.7">dip</text><text x="6.8" y="1.2" font-size="6.5" font-style="italic">a,b</text><text x="17.1" y="0" font-size="10">(cm<tspan font-size="6.5" dy="-3.8">-1</tspan><tspan dy="3.8">)</tspan></text></g>
<text x="253" y="30" font-size="9.2" text-anchor="start" font-family='"Liberation Sans", sans-serif' fill="#222" font-weight="normal" font-style="italic"  stroke="#222" stroke-width="0.22">M<tspan font-size="6" dy="2.4">I</tspan></text>
<text x="262.8" y="38.2" font-size="8.3" text-anchor="start" font-family='"Liberation Sans", sans-serif' fill="#222" font-weight="normal" font-style="normal"  stroke="#222" stroke-width="0.22">+7/2</text>
<text x="273.9" y="46.5" font-size="8.3" text-anchor="start" font-family='"Liberation Sans", sans-serif' fill="#222" font-weight="normal" font-style="normal"  stroke="#222" stroke-width="0.22">+5/2</text>
<text x="286.2" y="53.6" font-size="8.3" text-anchor="start" font-family='"Liberation Sans", sans-serif' fill="#222" font-weight="normal" font-style="normal"  stroke="#222" stroke-width="0.22">+3/2</text>
<text x="300.8" y="63.1" font-size="8.3" text-anchor="start" font-family='"Liberation Sans", sans-serif' fill="#222" font-weight="normal" font-style="normal"  stroke="#222" stroke-width="0.22">+1/2</text>
<text x="317" y="73.3" font-size="8.3" text-anchor="start" font-family='"Liberation Sans", sans-serif' fill="#222" font-weight="normal" font-style="normal"  stroke="#222" stroke-width="0.22">-1/2</text>
<text x="337" y="85.5" font-size="8.3" text-anchor="start" font-family='"Liberation Sans", sans-serif' fill="#222" font-weight="normal" font-style="normal"  stroke="#222" stroke-width="0.22">-3/2</text>
<text x="355.9" y="97.4" font-size="8.3" text-anchor="start" font-family='"Liberation Sans", sans-serif' fill="#222" font-weight="normal" font-style="normal"  stroke="#222" stroke-width="0.22">-5/2</text>
<text x="376.3" y="110.6" font-size="8.3" text-anchor="start" font-family='"Liberation Sans", sans-serif' fill="#222" font-weight="normal" font-style="normal"  stroke="#222" stroke-width="0.22">-7/2</text>
<text x="255.3" y="130.5" font-size="10" font-family='"Liberation Sans", sans-serif' fill="#222" stroke="#222" stroke-width="0.22"><tspan font-style="italic">B</tspan><tspan font-size="7.6" dy="1.9">min</tspan></text>
<path d="M259.6,133.9 L262.5,133.9 L262.5,145.4 L263.7,145.4 L261.05,148.8 L258.4,145.4 L259.6,145.4 Z" fill="url(#gblue)"/>
<text x="428.1" y="14.2" font-size="10.4" text-anchor="start" font-family='"Liberation Sans", sans-serif' fill="#111" font-weight="bold" font-style="normal"  stroke="#111" stroke-width="0.22">(c)</text>
<clipPath id="clipc"><rect x="473.3" y="11.35" width="173.49999999999994" height="138.85"/></clipPath>
<g clip-path="url(#clipc)"><path d="M473.3,56 L565.83,48.06 L565.83,113.54 L473.3,105.6 Z" fill="url(#hazec)"/><line x1="473.3" y1="82.92" x2="646.8" y2="58.98" stroke="#b2b2b2" stroke-width="0.5" stroke-opacity="0.8"/><line x1="473.3" y1="81.33" x2="646.8" y2="56.1" stroke="#b2b2b2" stroke-width="0.5" stroke-opacity="0.8"/><line x1="473.3" y1="79.19" x2="646.8" y2="53.22" stroke="#b2b2b2" stroke-width="0.5" stroke-opacity="0.8"/><line x1="473.3" y1="77.92" x2="646.8" y2="50.35" stroke="#b2b2b2" stroke-width="0.5" stroke-opacity="0.8"/><line x1="473.3" y1="75.81" x2="646.8" y2="47.47" stroke="#b2b2b2" stroke-width="0.5" stroke-opacity="0.8"/><line x1="473.3" y1="74.21" x2="646.8" y2="44.59" stroke="#b2b2b2" stroke-width="0.5" stroke-opacity="0.8"/><line x1="473.3" y1="72.72" x2="646.8" y2="41.72" stroke="#b2b2b2" stroke-width="0.5" stroke-opacity="0.8"/><line x1="473.3" y1="70.63" x2="646.8" y2="38.84" stroke="#b2b2b2" stroke-width="0.5" stroke-opacity="0.8"/><line x1="473.3" y1="69.26" x2="646.8" y2="35.96" stroke="#b2b2b2" stroke-width="0.5" stroke-opacity="0.8"/><line x1="473.3" y1="67.21" x2="646.8" y2="33.08" stroke="#b2b2b2" stroke-width="0.5" stroke-opacity="0.8"/><line x1="473.3" y1="65.77" x2="646.8" y2="30.21" stroke="#b2b2b2" stroke-width="0.5" stroke-opacity="0.8"/><line x1="473.3" y1="64.01" x2="646.8" y2="27.33" stroke="#b2b2b2" stroke-width="0.5" stroke-opacity="0.8"/><line x1="473.3" y1="62.01" x2="646.8" y2="24.45" stroke="#b2b2b2" stroke-width="0.5" stroke-opacity="0.8"/><line x1="473.3" y1="59.96" x2="646.8" y2="21.58" stroke="#b2b2b2" stroke-width="0.5" stroke-opacity="0.8"/><line x1="473.3" y1="58.78" x2="646.8" y2="18.7" stroke="#b2b2b2" stroke-width="0.5" stroke-opacity="0.8"/><line x1="473.3" y1="56.96" x2="646.8" y2="15.82" stroke="#b2b2b2" stroke-width="0.5" stroke-opacity="0.8"/><line x1="473.3" y1="82.4" x2="646.8" y2="58.28" stroke="#b2b2b2" stroke-width="0.5" stroke-opacity="0.8"/><line x1="473.3" y1="79.72" x2="646.8" y2="55.4" stroke="#b2b2b2" stroke-width="0.5" stroke-opacity="0.8"/><line x1="473.3" y1="79.08" x2="646.8" y2="52.53" stroke="#b2b2b2" stroke-width="0.5" stroke-opacity="0.8"/><line x1="473.3" y1="77.88" x2="646.8" y2="49.65" stroke="#b2b2b2" stroke-width="0.5" stroke-opacity="0.8"/><line x1="473.3" y1="74.42" x2="646.8" y2="46.77" stroke="#b2b2b2" stroke-width="0.5" stroke-opacity="0.8"/><line x1="473.3" y1="75.45" x2="646.8" y2="43.9" stroke="#b2b2b2" stroke-width="0.5" stroke-opacity="0.8"/><line x1="473.3" y1="71.3" x2="646.8" y2="41.02" stroke="#b2b2b2" stroke-width="0.5" stroke-opacity="0.8"/><line x1="473.3" y1="71.26" x2="646.8" y2="38.14" stroke="#b2b2b2" stroke-width="0.5" stroke-opacity="0.8"/><line x1="473.3" y1="69.95" x2="646.8" y2="35.27" stroke="#b2b2b2" stroke-width="0.5" stroke-opacity="0.8"/><line x1="473.3" y1="68.3" x2="646.8" y2="32.39" stroke="#b2b2b2" stroke-width="0.5" stroke-opacity="0.8"/><line x1="473.3" y1="65.99" x2="646.8" y2="29.51" stroke="#b2b2b2" stroke-width="0.5" stroke-opacity="0.8"/><line x1="473.3" y1="62.75" x2="646.8" y2="26.64" stroke="#b2b2b2" stroke-width="0.5" stroke-opacity="0.8"/><line x1="473.3" y1="62.9" x2="646.8" y2="23.76" stroke="#b2b2b2" stroke-width="0.5" stroke-opacity="0.8"/><line x1="473.3" y1="59.97" x2="646.8" y2="20.88" stroke="#b2b2b2" stroke-width="0.5" stroke-opacity="0.8"/><line x1="473.3" y1="58.07" x2="646.8" y2="18.01" stroke="#b2b2b2" stroke-width="0.5" stroke-opacity="0.8"/><line x1="473.3" y1="57.12" x2="646.8" y2="15.13" stroke="#b2b2b2" stroke-width="0.5" stroke-opacity="0.8"/><line x1="473.3" y1="78.85" x2="646.8" y2="102.62" stroke="#b2b2b2" stroke-width="0.5" stroke-opacity="0.8"/><line x1="473.3" y1="80.21" x2="646.8" y2="105.5" stroke="#b2b2b2" stroke-width="0.5" stroke-opacity="0.8"/><line x1="473.3" y1="81.94" x2="646.8" y2="108.38" stroke="#b2b2b2" stroke-width="0.5" stroke-opacity="0.8"/><line x1="473.3" y1="83.79" x2="646.8" y2="111.25" stroke="#b2b2b2" stroke-width="0.5" stroke-opacity="0.8"/><line x1="473.3" y1="85.9" x2="646.8" y2="114.13" stroke="#b2b2b2" stroke-width="0.5" stroke-opacity="0.8"/><line x1="473.3" y1="87.44" x2="646.8" y2="117.01" stroke="#b2b2b2" stroke-width="0.5" stroke-opacity="0.8"/><line x1="473.3" y1="89.08" x2="646.8" y2="119.88" stroke="#b2b2b2" stroke-width="0.5" stroke-opacity="0.8"/><line x1="473.3" y1="91.04" x2="646.8" y2="122.76" stroke="#b2b2b2" stroke-width="0.5" stroke-opacity="0.8"/><line x1="473.3" y1="92.67" x2="646.8" y2="125.64" stroke="#b2b2b2" stroke-width="0.5" stroke-opacity="0.8"/><line x1="473.3" y1="94.28" x2="646.8" y2="128.52" stroke="#b2b2b2" stroke-width="0.5" stroke-opacity="0.8"/><line x1="473.3" y1="96.41" x2="646.8" y2="131.39" stroke="#b2b2b2" stroke-width="0.5" stroke-opacity="0.8"/><line x1="473.3" y1="98.07" x2="646.8" y2="134.27" stroke="#b2b2b2" stroke-width="0.5" stroke-opacity="0.8"/><line x1="473.3" y1="99.44" x2="646.8" y2="137.15" stroke="#b2b2b2" stroke-width="0.5" stroke-opacity="0.8"/><line x1="473.3" y1="101.44" x2="646.8" y2="140.02" stroke="#b2b2b2" stroke-width="0.5" stroke-opacity="0.8"/><line x1="473.3" y1="103.14" x2="646.8" y2="142.9" stroke="#b2b2b2" stroke-width="0.5" stroke-opacity="0.8"/><line x1="473.3" y1="105.15" x2="646.8" y2="145.78" stroke="#b2b2b2" stroke-width="0.5" stroke-opacity="0.8"/><line x1="473.3" y1="79.5" x2="646.8" y2="103.32" stroke="#b2b2b2" stroke-width="0.5" stroke-opacity="0.8"/><line x1="473.3" y1="79.92" x2="646.8" y2="106.2" stroke="#b2b2b2" stroke-width="0.5" stroke-opacity="0.8"/><line x1="473.3" y1="83.72" x2="646.8" y2="109.07" stroke="#b2b2b2" stroke-width="0.5" stroke-opacity="0.8"/><line x1="473.3" y1="82.89" x2="646.8" y2="111.95" stroke="#b2b2b2" stroke-width="0.5" stroke-opacity="0.8"/><line x1="473.3" y1="85.52" x2="646.8" y2="114.83" stroke="#b2b2b2" stroke-width="0.5" stroke-opacity="0.8"/><line x1="473.3" y1="88.26" x2="646.8" y2="117.7" stroke="#b2b2b2" stroke-width="0.5" stroke-opacity="0.8"/><line x1="473.3" y1="88.2" x2="646.8" y2="120.58" stroke="#b2b2b2" stroke-width="0.5" stroke-opacity="0.8"/><line x1="473.3" y1="90.94" x2="646.8" y2="123.46" stroke="#b2b2b2" stroke-width="0.5" stroke-opacity="0.8"/><line x1="473.3" y1="91.33" x2="646.8" y2="126.33" stroke="#b2b2b2" stroke-width="0.5" stroke-opacity="0.8"/><line x1="473.3" y1="94.94" x2="646.8" y2="129.21" stroke="#b2b2b2" stroke-width="0.5" stroke-opacity="0.8"/><line x1="473.3" y1="96.96" x2="646.8" y2="132.09" stroke="#b2b2b2" stroke-width="0.5" stroke-opacity="0.8"/><line x1="473.3" y1="98.13" x2="646.8" y2="134.96" stroke="#b2b2b2" stroke-width="0.5" stroke-opacity="0.8"/><line x1="473.3" y1="100.77" x2="646.8" y2="137.84" stroke="#b2b2b2" stroke-width="0.5" stroke-opacity="0.8"/><line x1="473.3" y1="100.83" x2="646.8" y2="140.72" stroke="#b2b2b2" stroke-width="0.5" stroke-opacity="0.8"/><line x1="473.3" y1="103.7" x2="646.8" y2="143.59" stroke="#b2b2b2" stroke-width="0.5" stroke-opacity="0.8"/><line x1="473.3" y1="105.14" x2="646.8" y2="146.47" stroke="#b2b2b2" stroke-width="0.5" stroke-opacity="0.8"/><line x1="473.3" y1="97.87" x2="646.8" y2="98.06" stroke="#8e8e8e" stroke-width="0.55" stroke-opacity="0.8"/><line x1="473.3" y1="95.29" x2="646.8" y2="95.18" stroke="#8e8e8e" stroke-width="0.55" stroke-opacity="0.8"/><line x1="473.3" y1="91.5" x2="646.8" y2="92.31" stroke="#8e8e8e" stroke-width="0.55" stroke-opacity="0.8"/><line x1="473.3" y1="88.37" x2="646.8" y2="89.43" stroke="#8e8e8e" stroke-width="0.55" stroke-opacity="0.8"/><line x1="473.3" y1="86.62" x2="646.8" y2="86.55" stroke="#8e8e8e" stroke-width="0.55" stroke-opacity="0.8"/><line x1="473.3" y1="83.29" x2="646.8" y2="83.68" stroke="#8e8e8e" stroke-width="0.55" stroke-opacity="0.8"/><line x1="473.3" y1="81.85" x2="646.8" y2="80.8" stroke="#8e8e8e" stroke-width="0.55" stroke-opacity="0.8"/><line x1="473.3" y1="77.44" x2="646.8" y2="77.92" stroke="#8e8e8e" stroke-width="0.55" stroke-opacity="0.8"/><line x1="473.3" y1="74.7" x2="646.8" y2="75.05" stroke="#8e8e8e" stroke-width="0.55" stroke-opacity="0.8"/><line x1="473.3" y1="71" x2="646.8" y2="72.17" stroke="#8e8e8e" stroke-width="0.55" stroke-opacity="0.8"/><line x1="473.3" y1="68.53" x2="646.8" y2="69.29" stroke="#8e8e8e" stroke-width="0.55" stroke-opacity="0.8"/><line x1="473.3" y1="66.93" x2="646.8" y2="66.42" stroke="#8e8e8e" stroke-width="0.55" stroke-opacity="0.8"/><line x1="473.3" y1="63.81" x2="646.8" y2="63.54" stroke="#8e8e8e" stroke-width="0.55" stroke-opacity="0.8"/><line x1="473.3" y1="99.68" x2="646.8" y2="97.56" stroke="#8e8e8e" stroke-width="0.55" stroke-opacity="0.8"/><line x1="473.3" y1="97.91" x2="646.8" y2="94.69" stroke="#8e8e8e" stroke-width="0.55" stroke-opacity="0.8"/><line x1="473.3" y1="93.55" x2="646.8" y2="91.81" stroke="#8e8e8e" stroke-width="0.55" stroke-opacity="0.8"/><line x1="473.3" y1="90.94" x2="646.8" y2="88.93" stroke="#8e8e8e" stroke-width="0.55" stroke-opacity="0.8"/><line x1="473.3" y1="87.76" x2="646.8" y2="86.06" stroke="#8e8e8e" stroke-width="0.55" stroke-opacity="0.8"/><line x1="473.3" y1="84.59" x2="646.8" y2="83.18" stroke="#8e8e8e" stroke-width="0.55" stroke-opacity="0.8"/><line x1="473.3" y1="79.59" x2="646.8" y2="80.3" stroke="#8e8e8e" stroke-width="0.55" stroke-opacity="0.8"/><line x1="473.3" y1="77.8" x2="646.8" y2="77.43" stroke="#8e8e8e" stroke-width="0.55" stroke-opacity="0.8"/><line x1="473.3" y1="74.21" x2="646.8" y2="74.55" stroke="#8e8e8e" stroke-width="0.55" stroke-opacity="0.8"/><line x1="473.3" y1="70.56" x2="646.8" y2="71.67" stroke="#8e8e8e" stroke-width="0.55" stroke-opacity="0.8"/><line x1="473.3" y1="66.11" x2="646.8" y2="68.8" stroke="#8e8e8e" stroke-width="0.55" stroke-opacity="0.8"/><line x1="473.3" y1="64.69" x2="646.8" y2="65.92" stroke="#8e8e8e" stroke-width="0.55" stroke-opacity="0.8"/><line x1="473.3" y1="60.5" x2="646.8" y2="63.04" stroke="#8e8e8e" stroke-width="0.55" stroke-opacity="0.8"/><path d="M473.3,69.47 L475.23,69.6 L477.16,69.71 L479.08,69.81 L481.01,69.88 L482.94,69.94 L484.87,69.97 L486.79,69.99 L488.72,69.98 L490.65,69.95 L492.58,69.91 L494.51,69.84 L496.43,69.75 L498.36,69.65 L500.29,69.52 L502.22,69.38 L504.14,69.22 L506.07,69.05 L508,68.86 L509.93,68.65 L511.86,68.43 L513.78,68.2 L515.71,67.95 L517.64,67.69 L519.57,67.42 L521.49,67.15 L523.42,66.86 L525.35,66.56 L527.28,66.25 L529.21,65.94 L531.13,65.62 L533.06,65.29 L534.99,64.95 L536.92,64.61 L538.84,64.27 L540.77,63.91 L542.7,63.56 L544.63,63.2 L546.56,62.83 L548.48,62.46 L550.41,62.09 L552.34,61.71 L554.27,61.33 L556.19,60.94 L558.12,60.56 L560.05,60.17 L561.98,59.77 L563.91,59.38 L565.83,58.98 L567.76,58.58 L569.69,58.18 L571.62,57.78 L573.54,57.37 L575.47,56.97 L577.4,56.56 L579.33,56.15 L581.26,55.74 L583.18,55.32 L585.11,54.91 L587.04,54.49 L588.97,54.07 L590.89,53.66 L592.82,53.24 L594.75,52.82 L596.68,52.39 L598.61,51.97 L600.53,51.55 L602.46,51.12 L604.39,50.7 L606.32,50.27 L608.24,49.84 L610.17,49.42 L612.1,48.99 L614.03,48.56 L615.96,48.13 L617.88,47.7 L619.81,47.27 L621.74,46.84 L623.67,46.4 L625.59,45.97 L627.52,45.54 L629.45,45.11 L631.38,44.67 L633.31,44.24 L635.23,43.8 L637.16,43.37 L639.09,42.93 L641.02,42.49 L642.94,42.06 L644.87,41.62 L646.8,41.18" fill="none" stroke="#66B866" stroke-width="0.9" /><path d="M473.3,92.13 L475.23,92 L477.16,91.89 L479.08,91.79 L481.01,91.72 L482.94,91.66 L484.87,91.63 L486.79,91.61 L488.72,91.62 L490.65,91.65 L492.58,91.69 L494.51,91.76 L496.43,91.85 L498.36,91.95 L500.29,92.08 L502.22,92.22 L504.14,92.38 L506.07,92.55 L508,92.74 L509.93,92.95 L511.86,93.17 L513.78,93.4 L515.71,93.65 L517.64,93.91 L519.57,94.18 L521.49,94.45 L523.42,94.74 L525.35,95.04 L527.28,95.35 L529.21,95.66 L531.13,95.98 L533.06,96.31 L534.99,96.65 L536.92,96.99 L538.84,97.33 L540.77,97.69 L542.7,98.04 L544.63,98.4 L546.56,98.77 L548.48,99.14 L550.41,99.51 L552.34,99.89 L554.27,100.27 L556.19,100.66 L558.12,101.04 L560.05,101.43 L561.98,101.83 L563.91,102.22 L565.83,102.62 L567.76,103.02 L569.69,103.42 L571.62,103.82 L573.54,104.23 L575.47,104.63 L577.4,105.04 L579.33,105.45 L581.26,105.86 L583.18,106.28 L585.11,106.69 L587.04,107.11 L588.97,107.53 L590.89,107.94 L592.82,108.36 L594.75,108.78 L596.68,109.21 L598.61,109.63 L600.53,110.05 L602.46,110.48 L604.39,110.9 L606.32,111.33 L608.24,111.76 L610.17,112.18 L612.1,112.61 L614.03,113.04 L615.96,113.47 L617.88,113.9 L619.81,114.33 L621.74,114.76 L623.67,115.2 L625.59,115.63 L627.52,116.06 L629.45,116.49 L631.38,116.93 L633.31,117.36 L635.23,117.8 L637.16,118.23 L639.09,118.67 L641.02,119.11 L642.94,119.54 L644.87,119.98 L646.8,120.42" fill="none" stroke="#2a2a2a" stroke-width="1.0" /><line x1="473.3" y1="80.8" x2="646.8" y2="80.8" stroke="#8C8CE8" stroke-width="1.6" /></g>
<rect x="473.3" y="11.35" width="173.49999999999994" height="138.85" fill="none" stroke="#444" stroke-width="1"/>
<line x1="473.3" y1="150.2" x2="473.3" y2="153.2" stroke="#444" stroke-width="0.8" />
<line x1="487.76" y1="150.2" x2="487.76" y2="152" stroke="#444" stroke-width="0.8" />
<line x1="502.22" y1="150.2" x2="502.22" y2="153.2" stroke="#444" stroke-width="0.8" />
<line x1="516.67" y1="150.2" x2="516.67" y2="152" stroke="#444" stroke-width="0.8" />
<line x1="531.13" y1="150.2" x2="531.13" y2="153.2" stroke="#444" stroke-width="0.8" />
<line x1="545.59" y1="150.2" x2="545.59" y2="152" stroke="#444" stroke-width="0.8" />
<line x1="560.05" y1="150.2" x2="560.05" y2="153.2" stroke="#444" stroke-width="0.8" />
<line x1="574.51" y1="150.2" x2="574.51" y2="152" stroke="#444" stroke-width="0.8" />
<line x1="588.97" y1="150.2" x2="588.97" y2="153.2" stroke="#444" stroke-width="0.8" />
<line x1="603.42" y1="150.2" x2="603.42" y2="152" stroke="#444" stroke-width="0.8" />
<line x1="617.88" y1="150.2" x2="617.88" y2="153.2" stroke="#444" stroke-width="0.8" />
<line x1="632.34" y1="150.2" x2="632.34" y2="152" stroke="#444" stroke-width="0.8" />
<line x1="646.8" y1="150.2" x2="646.8" y2="153.2" stroke="#444" stroke-width="0.8" />
<line x1="473.3" y1="150.24" x2="471.5" y2="150.24" stroke="#444" stroke-width="0.8" />
<line x1="473.3" y1="140.32" x2="470.3" y2="140.32" stroke="#444" stroke-width="0.8" />
<line x1="473.3" y1="130.4" x2="471.5" y2="130.4" stroke="#444" stroke-width="0.8" />
<line x1="473.3" y1="120.48" x2="470.3" y2="120.48" stroke="#444" stroke-width="0.8" />
<line x1="473.3" y1="110.56" x2="471.5" y2="110.56" stroke="#444" stroke-width="0.8" />
<line x1="473.3" y1="100.64" x2="470.3" y2="100.64" stroke="#444" stroke-width="0.8" />
<line x1="473.3" y1="90.72" x2="471.5" y2="90.72" stroke="#444" stroke-width="0.8" />
<line x1="473.3" y1="80.8" x2="470.3" y2="80.8" stroke="#444" stroke-width="0.8" />
<line x1="473.3" y1="70.88" x2="471.5" y2="70.88" stroke="#444" stroke-width="0.8" />
<line x1="473.3" y1="60.96" x2="470.3" y2="60.96" stroke="#444" stroke-width="0.8" />
<line x1="473.3" y1="51.04" x2="471.5" y2="51.04" stroke="#444" stroke-width="0.8" />
<line x1="473.3" y1="41.12" x2="470.3" y2="41.12" stroke="#444" stroke-width="0.8" />
<line x1="473.3" y1="31.2" x2="471.5" y2="31.2" stroke="#444" stroke-width="0.8" />
<line x1="473.3" y1="21.28" x2="470.3" y2="21.28" stroke="#444" stroke-width="0.8" />
<line x1="473.3" y1="11.36" x2="471.5" y2="11.36" stroke="#444" stroke-width="0.8" />
<text x="473.3" y="162.4" font-size="9.1" text-anchor="middle" font-family='"Liberation Sans", sans-serif' fill="#2a2a2a" font-weight="normal" font-style="normal"  stroke="#2a2a2a" stroke-width="0.22">0.00</text>
<text x="502.22" y="162.4" font-size="9.1" text-anchor="middle" font-family='"Liberation Sans", sans-serif' fill="#2a2a2a" font-weight="normal" font-style="normal"  stroke="#2a2a2a" stroke-width="0.22">0.05</text>
<text x="531.13" y="162.4" font-size="9.1" text-anchor="middle" font-family='"Liberation Sans", sans-serif' fill="#2a2a2a" font-weight="normal" font-style="normal"  stroke="#2a2a2a" stroke-width="0.22">0.10</text>
<text x="560.05" y="162.4" font-size="9.1" text-anchor="middle" font-family='"Liberation Sans", sans-serif' fill="#2a2a2a" font-weight="normal" font-style="normal"  stroke="#2a2a2a" stroke-width="0.22">0.15</text>
<text x="588.97" y="162.4" font-size="9.1" text-anchor="middle" font-family='"Liberation Sans", sans-serif' fill="#2a2a2a" font-weight="normal" font-style="normal"  stroke="#2a2a2a" stroke-width="0.22">0.20</text>
<text x="617.88" y="162.4" font-size="9.1" text-anchor="middle" font-family='"Liberation Sans", sans-serif' fill="#2a2a2a" font-weight="normal" font-style="normal"  stroke="#2a2a2a" stroke-width="0.22">0.25</text>
<text x="646.8" y="162.4" font-size="9.1" text-anchor="middle" font-family='"Liberation Sans", sans-serif' fill="#2a2a2a" font-weight="normal" font-style="normal"  stroke="#2a2a2a" stroke-width="0.22">0.30</text>
<text x="468.7" y="142.72" font-size="9.1" text-anchor="end" font-family='"Liberation Sans", sans-serif' fill="#2a2a2a" font-weight="normal" font-style="normal"  stroke="#2a2a2a" stroke-width="0.22">-60</text>
<text x="468.7" y="122.88" font-size="9.1" text-anchor="end" font-family='"Liberation Sans", sans-serif' fill="#2a2a2a" font-weight="normal" font-style="normal"  stroke="#2a2a2a" stroke-width="0.22">-40</text>
<text x="468.7" y="103.04" font-size="9.1" text-anchor="end" font-family='"Liberation Sans", sans-serif' fill="#2a2a2a" font-weight="normal" font-style="normal"  stroke="#2a2a2a" stroke-width="0.22">-20</text>
<text x="468.7" y="83.2" font-size="9.1" text-anchor="end" font-family='"Liberation Sans", sans-serif' fill="#2a2a2a" font-weight="normal" font-style="normal"  stroke="#2a2a2a" stroke-width="0.22">0</text>
<text x="468.7" y="63.36" font-size="9.1" text-anchor="end" font-family='"Liberation Sans", sans-serif' fill="#2a2a2a" font-weight="normal" font-style="normal"  stroke="#2a2a2a" stroke-width="0.22">20</text>
<text x="468.7" y="43.52" font-size="9.1" text-anchor="end" font-family='"Liberation Sans", sans-serif' fill="#2a2a2a" font-weight="normal" font-style="normal"  stroke="#2a2a2a" stroke-width="0.22">40</text>
<text x="468.7" y="23.68" font-size="9.1" text-anchor="end" font-family='"Liberation Sans", sans-serif' fill="#2a2a2a" font-weight="normal" font-style="normal"  stroke="#2a2a2a" stroke-width="0.22">60</text>
<text x="560.3" y="171.7" font-size="10.5" text-anchor="middle" font-family='"Liberation Sans", sans-serif' fill="#222" stroke="#222" stroke-width="0.22"><tspan font-style="italic">B</tspan><tspan font-size="7.2" dy="2.6">0z</tspan><tspan dy="-2.6"> (T)</tspan></text>
<text x="0" y="0" font-size="10.6" text-anchor="middle" font-family='"Liberation Sans", sans-serif' fill="#222" font-weight="normal" font-style="normal" transform="translate(453.6,80.2) rotate(-90)" stroke="#222" stroke-width="0.22">Energy (GHz)</text>
<text x="480.8" y="26.5" font-size="10" font-family='"Liberation Sans", sans-serif' fill="#222" stroke="#222" stroke-width="0.22"><tspan font-style="italic">B</tspan><tspan font-size="7.6" dy="2.4">min</tspan></text>
<path d="M485.6,31.8 L488.5,31.8 L488.5,42.4 L490,42.4 L487.05,45.8 L484.2,42.4 L485.6,42.4 Z" fill="url(#gblue)"/>
<text x="0" y="187" font-size="10.4" text-anchor="start" font-family='"Liberation Sans", sans-serif' fill="#111" font-weight="bold" font-style="normal"  stroke="#111" stroke-width="0.22">(d)</text>
<clipPath id="clipd"><rect x="31.0" y="191.1" width="173.3" height="139.4"/></clipPath>
<g clip-path="url(#clipd)"><path d="M30.44,309.55 L31.89,310.13 L33.35,310.69 L34.81,311.25 L36.26,311.8 L37.72,312.34 L39.17,312.87 L40.63,313.38 L42.09,313.89 L43.54,314.39 L45,314.88 L46.45,315.36 L47.91,315.83 L49.37,316.29 L50.82,316.74 L52.28,317.18 L53.73,317.62 L55.19,318.04 L56.65,318.45 L58.1,318.85 L59.56,319.24 L61.01,319.63 L62.47,320 L63.93,320.36 L65.38,320.72 L66.84,321.06 L68.29,321.4 L69.75,321.72 L71.21,322.04 L72.66,322.34 L74.12,322.64 L75.58,322.92 L77.03,323.2 L78.49,323.47 L79.94,323.72 L81.4,323.97 L82.86,324.21 L84.31,324.44 L85.77,324.65 L87.22,324.86 L88.68,325.06 L90.14,325.25 L91.59,325.43 L93.05,325.6 L94.5,325.76 L95.96,325.91 L97.42,326.05 L98.87,326.18 L100.33,326.3 L101.78,326.41 L103.24,326.52 L104.7,326.61 L106.15,326.69 L107.61,326.76 L109.06,326.83 L110.52,326.88 L111.98,326.92 L113.43,326.96 L114.89,326.98 L116.34,327 L117.8,327 L119.26,327 L120.71,326.98 L122.17,326.96 L123.62,326.92 L125.08,326.88 L126.54,326.83 L127.99,326.76 L129.45,326.69 L130.9,326.61 L132.36,326.52 L133.82,326.41 L135.27,326.3 L136.73,326.18 L138.18,326.05 L139.64,325.91 L141.1,325.76 L142.55,325.6 L144.01,325.43 L145.46,325.25 L146.92,325.06 L148.38,324.86 L149.83,324.65 L151.29,324.44 L152.74,324.21 L154.2,323.97 L155.66,323.72 L157.11,323.47 L158.57,323.2 L160.02,322.92 L161.48,322.64 L162.94,322.34 L164.39,322.04 L165.85,321.72 L167.31,321.4 L168.76,321.06 L170.22,320.72 L171.67,320.36 L173.13,320 L174.59,319.63 L176.04,319.24 L177.5,318.85 L178.95,318.45 L180.41,318.04 L181.87,317.62 L183.32,317.18 L184.78,316.74 L186.23,316.29 L187.69,315.83 L189.15,315.36 L190.6,314.88 L192.06,314.39 L193.51,313.89 L194.97,313.38 L196.43,312.87 L197.88,312.34 L199.34,311.8 L200.79,311.25 L202.25,310.69 L203.71,310.13 L205.16,309.55" fill="none" stroke="#333" stroke-width="1.0" /><path d="M30.44,206.49 L31.89,206.37 L33.35,206.25 L34.81,206.13 L36.26,206.01 L37.72,205.9 L39.17,205.78 L40.63,205.67 L42.09,205.56 L43.54,205.45 L45,205.35 L46.45,205.25 L47.91,205.14 L49.37,205.05 L50.82,204.95 L52.28,204.85 L53.73,204.76 L55.19,204.67 L56.65,204.58 L58.1,204.5 L59.56,204.41 L61.01,204.33 L62.47,204.25 L63.93,204.17 L65.38,204.09 L66.84,204.02 L68.29,203.95 L69.75,203.88 L71.21,203.81 L72.66,203.75 L74.12,203.68 L75.58,203.62 L77.03,203.56 L78.49,203.5 L79.94,203.45 L81.4,203.4 L82.86,203.34 L84.31,203.3 L85.77,203.25 L87.22,203.2 L88.68,203.16 L90.14,203.12 L91.59,203.08 L93.05,203.05 L94.5,203.01 L95.96,202.98 L97.42,202.95 L98.87,202.92 L100.33,202.89 L101.78,202.87 L103.24,202.85 L104.7,202.83 L106.15,202.81 L107.61,202.8 L109.06,202.78 L110.52,202.77 L111.98,202.76 L113.43,202.75 L114.89,202.75 L116.34,202.75 L117.8,202.74 L119.26,202.75 L120.71,202.75 L122.17,202.75 L123.62,202.76 L125.08,202.77 L126.54,202.78 L127.99,202.8 L129.45,202.81 L130.9,202.83 L132.36,202.85 L133.82,202.87 L135.27,202.89 L136.73,202.92 L138.18,202.95 L139.64,202.98 L141.1,203.01 L142.55,203.05 L144.01,203.08 L145.46,203.12 L146.92,203.16 L148.38,203.2 L149.83,203.25 L151.29,203.3 L152.74,203.34 L154.2,203.4 L155.66,203.45 L157.11,203.5 L158.57,203.56 L160.02,203.62 L161.48,203.68 L162.94,203.75 L164.39,203.81 L165.85,203.88 L167.31,203.95 L168.76,204.02 L170.22,204.09 L171.67,204.17 L173.13,204.25 L174.59,204.33 L176.04,204.41 L177.5,204.5 L178.95,204.58 L180.41,204.67 L181.87,204.76 L183.32,204.85 L184.78,204.95 L186.23,205.05 L187.69,205.14 L189.15,205.25 L190.6,205.35 L192.06,205.45 L193.51,205.56 L194.97,205.67 L196.43,205.78 L197.88,205.9 L199.34,206.01 L200.79,206.13 L202.25,206.25 L203.71,206.37 L205.16,206.49" fill="none" stroke="#F04848" stroke-width="1.0" /><path d="M30.44,223.94 L31.89,223.24 L33.35,222.55 L34.81,221.88 L36.26,221.21 L37.72,220.56 L39.17,219.92 L40.63,219.29 L42.09,218.67 L43.54,218.06 L45,217.47 L46.45,216.88 L47.91,216.31 L49.37,215.75 L50.82,215.21 L52.28,214.67 L53.73,214.15 L55.19,213.63 L56.65,213.13 L58.1,212.64 L59.56,212.17 L61.01,211.7 L62.47,211.25 L63.93,210.81 L65.38,210.38 L66.84,209.96 L68.29,209.55 L69.75,209.16 L71.21,208.77 L72.66,208.4 L74.12,208.04 L75.58,207.7 L77.03,207.36 L78.49,207.04 L79.94,206.73 L81.4,206.42 L82.86,206.14 L84.31,205.86 L85.77,205.59 L87.22,205.34 L88.68,205.1 L90.14,204.87 L91.59,204.65 L93.05,204.45 L94.5,204.25 L95.96,204.07 L97.42,203.9 L98.87,203.74 L100.33,203.59 L101.78,203.46 L103.24,203.33 L104.7,203.22 L106.15,203.12 L107.61,203.03 L109.06,202.96 L110.52,202.89 L111.98,202.84 L113.43,202.8 L114.89,202.77 L116.34,202.75 L117.8,202.74 L119.26,202.75 L120.71,202.77 L122.17,202.8 L123.62,202.84 L125.08,202.89 L126.54,202.96 L127.99,203.03 L129.45,203.12 L130.9,203.22 L132.36,203.33 L133.82,203.46 L135.27,203.59 L136.73,203.74 L138.18,203.9 L139.64,204.07 L141.1,204.25 L142.55,204.45 L144.01,204.65 L145.46,204.87 L146.92,205.1 L148.38,205.34 L149.83,205.59 L151.29,205.86 L152.74,206.14 L154.2,206.42 L155.66,206.73 L157.11,207.04 L158.57,207.36 L160.02,207.7 L161.48,208.04 L162.94,208.4 L164.39,208.77 L165.85,209.16 L167.31,209.55 L168.76,209.96 L170.22,210.38 L171.67,210.81 L173.13,211.25 L174.59,211.7 L176.04,212.17 L177.5,212.64 L178.95,213.13 L180.41,213.63 L181.87,214.15 L183.32,214.67 L184.78,215.21 L186.23,215.75 L187.69,216.31 L189.15,216.88 L190.6,217.47 L192.06,218.06 L193.51,218.67 L194.97,219.29 L196.43,219.92 L197.88,220.56 L199.34,221.21 L200.79,221.88 L202.25,222.55 L203.71,223.24 L205.16,223.94" fill="none" stroke="#4848F0" stroke-width="1.0" /></g>
<rect x="31.0" y="191.1" width="173.3" height="139.4" fill="none" stroke="#444" stroke-width="1"/>
<line x1="45.6" y1="330.5" x2="45.6" y2="333.5" stroke="#444" stroke-width="0.8" />
<line x1="63.65" y1="330.5" x2="63.65" y2="332.3" stroke="#444" stroke-width="0.8" />
<line x1="81.7" y1="330.5" x2="81.7" y2="333.5" stroke="#444" stroke-width="0.8" />
<line x1="99.75" y1="330.5" x2="99.75" y2="332.3" stroke="#444" stroke-width="0.8" />
<line x1="117.8" y1="330.5" x2="117.8" y2="333.5" stroke="#444" stroke-width="0.8" />
<line x1="135.85" y1="330.5" x2="135.85" y2="332.3" stroke="#444" stroke-width="0.8" />
<line x1="153.9" y1="330.5" x2="153.9" y2="333.5" stroke="#444" stroke-width="0.8" />
<line x1="171.95" y1="330.5" x2="171.95" y2="332.3" stroke="#444" stroke-width="0.8" />
<line x1="190" y1="330.5" x2="190" y2="333.5" stroke="#444" stroke-width="0.8" />
<line x1="31" y1="327" x2="28" y2="327" stroke="#444" stroke-width="0.8" />
<line x1="31" y1="317.29" x2="29.2" y2="317.29" stroke="#444" stroke-width="0.8" />
<line x1="31" y1="307.58" x2="28" y2="307.58" stroke="#444" stroke-width="0.8" />
<line x1="31" y1="297.88" x2="29.2" y2="297.88" stroke="#444" stroke-width="0.8" />
<line x1="31" y1="288.17" x2="28" y2="288.17" stroke="#444" stroke-width="0.8" />
<line x1="31" y1="278.46" x2="29.2" y2="278.46" stroke="#444" stroke-width="0.8" />
<line x1="31" y1="268.75" x2="28" y2="268.75" stroke="#444" stroke-width="0.8" />
<line x1="31" y1="259.05" x2="29.2" y2="259.05" stroke="#444" stroke-width="0.8" />
<line x1="31" y1="249.34" x2="28" y2="249.34" stroke="#444" stroke-width="0.8" />
<line x1="31" y1="239.63" x2="29.2" y2="239.63" stroke="#444" stroke-width="0.8" />
<line x1="31" y1="229.93" x2="28" y2="229.93" stroke="#444" stroke-width="0.8" />
<line x1="31" y1="220.22" x2="29.2" y2="220.22" stroke="#444" stroke-width="0.8" />
<line x1="31" y1="210.51" x2="28" y2="210.51" stroke="#444" stroke-width="0.8" />
<line x1="31" y1="200.8" x2="29.2" y2="200.8" stroke="#444" stroke-width="0.8" />
<line x1="31" y1="191.09" x2="28" y2="191.09" stroke="#444" stroke-width="0.8" />
<text x="45.6" y="342.3" font-size="9.1" text-anchor="middle" font-family='"Liberation Sans", sans-serif' fill="#2a2a2a" font-weight="normal" font-style="normal"  stroke="#2a2a2a" stroke-width="0.22">-20</text>
<text x="81.7" y="342.3" font-size="9.1" text-anchor="middle" font-family='"Liberation Sans", sans-serif' fill="#2a2a2a" font-weight="normal" font-style="normal"  stroke="#2a2a2a" stroke-width="0.22">-10</text>
<text x="117.8" y="342.3" font-size="9.1" text-anchor="middle" font-family='"Liberation Sans", sans-serif' fill="#2a2a2a" font-weight="normal" font-style="normal"  stroke="#2a2a2a" stroke-width="0.22">0</text>
<text x="153.9" y="342.3" font-size="9.1" text-anchor="middle" font-family='"Liberation Sans", sans-serif' fill="#2a2a2a" font-weight="normal" font-style="normal"  stroke="#2a2a2a" stroke-width="0.22">10</text>
<text x="190" y="342.3" font-size="9.1" text-anchor="middle" font-family='"Liberation Sans", sans-serif' fill="#2a2a2a" font-weight="normal" font-style="normal"  stroke="#2a2a2a" stroke-width="0.22">20</text>
<text x="26.7" y="330" font-size="9.1" text-anchor="end" font-family='"Liberation Sans", sans-serif' fill="#2a2a2a" font-weight="normal" font-style="normal"  stroke="#2a2a2a" stroke-width="0.22">0.0</text>
<text x="26.7" y="310.58" font-size="9.1" text-anchor="end" font-family='"Liberation Sans", sans-serif' fill="#2a2a2a" font-weight="normal" font-style="normal"  stroke="#2a2a2a" stroke-width="0.22">0.5</text>
<text x="26.7" y="291.17" font-size="9.1" text-anchor="end" font-family='"Liberation Sans", sans-serif' fill="#2a2a2a" font-weight="normal" font-style="normal"  stroke="#2a2a2a" stroke-width="0.22">1.0</text>
<text x="26.7" y="271.75" font-size="9.1" text-anchor="end" font-family='"Liberation Sans", sans-serif' fill="#2a2a2a" font-weight="normal" font-style="normal"  stroke="#2a2a2a" stroke-width="0.22">1.5</text>
<text x="26.7" y="252.34" font-size="9.1" text-anchor="end" font-family='"Liberation Sans", sans-serif' fill="#2a2a2a" font-weight="normal" font-style="normal"  stroke="#2a2a2a" stroke-width="0.22">2.0</text>
<text x="26.7" y="232.93" font-size="9.1" text-anchor="end" font-family='"Liberation Sans", sans-serif' fill="#2a2a2a" font-weight="normal" font-style="normal"  stroke="#2a2a2a" stroke-width="0.22">2.5</text>
<text x="26.7" y="213.51" font-size="9.1" text-anchor="end" font-family='"Liberation Sans", sans-serif' fill="#2a2a2a" font-weight="normal" font-style="normal"  stroke="#2a2a2a" stroke-width="0.22">3.0</text>
<text x="26.7" y="194.09" font-size="9.1" text-anchor="end" font-family='"Liberation Sans", sans-serif' fill="#2a2a2a" font-weight="normal" font-style="normal"  stroke="#2a2a2a" stroke-width="0.22">3.5</text>
<text x="117.7" y="349.5" font-size="10.4" text-anchor="middle" font-family='"Liberation Sans", sans-serif' fill="#222" stroke="#222" stroke-width="0.22"><tspan font-style="italic">B</tspan><tspan font-size="7" dy="2.6" font-style="italic">0z</tspan><tspan dy="-2.6">-</tspan><tspan font-style="italic">B</tspan><tspan font-size="7" dy="2.6">min</tspan><tspan dy="-2.6"> (mT)</tspan></text>
<text font-size="10.1" text-anchor="middle" font-family='"Liberation Sans", sans-serif' fill="#222" transform="translate(10.2,247.7) rotate(-90)" stroke="#222" stroke-width="0.22"><tspan font-style="italic">&#x03B4;f</tspan> (MHz)</text>
<line x1="90" y1="245.3" x2="109.4" y2="245.3" stroke="#555" stroke-width="0.8" />
<text x="112" y="248" font-size="8.5" font-family='"Liberation Sans", sans-serif' fill="#222" stroke="#222" stroke-width="0.22"><tspan font-weight="bold">E</tspan> = 0 V</text>
<line x1="90" y1="256" x2="109.4" y2="256" stroke="#F07070" stroke-width="0.8" />
<text x="112" y="258.7" font-size="8.5" font-family='"Liberation Sans", sans-serif' fill="#222" stroke="#222" stroke-width="0.22"><tspan font-weight="bold">E</tspan> = 300 V</text>
<line x1="90" y1="266.7" x2="109.4" y2="266.7" stroke="#5050F0" stroke-width="0.8" />
<text x="112" y="269.4" font-size="8.5" font-family='"Liberation Sans", sans-serif' fill="#222" stroke="#222" stroke-width="0.22">300 V - 0 V</text>
<line x1="117.5" y1="203.8" x2="129.5" y2="214.5" stroke="#F03030" stroke-width="0.8" />
<path d="M116.8,203.2 L119.9,204.24 L118.16,206.17 Z" fill="#F03030"/>
<text x="128.7" y="221.6" font-size="8.9" font-family='"Liberation Sans", sans-serif' fill="#F03838" stroke="#F03838" stroke-width="0.22">3<tspan font-size="6.2" dy="-3.6">rd</tspan><tspan dy="3.6"> order CT</tspan></text>
<text x="70" y="304.8" font-size="8.8" text-anchor="start" font-family='"Liberation Sans", sans-serif' fill="#222" font-weight="normal" font-style="normal"  stroke="#222" stroke-width="0.22">0.1 MHz at 12 mT</text>
<line x1="82" y1="308" x2="76" y2="319.5" stroke="#222" stroke-width="0.8" />
<path d="M75,322 L75.05,318.73 L77.42,319.8 Z" fill="#222"/>
<text x="213.5" y="186.8" font-size="10.4" text-anchor="start" font-family='"Liberation Sans", sans-serif' fill="#111" font-weight="bold" font-style="normal"  stroke="#111" stroke-width="0.22">(e)</text>
<path d="M247.4,193.4 L249.14,193.9 L250.87,194.39 L252.61,194.87 L254.34,195.35 L256.08,195.81 L257.82,196.26 L259.55,196.7 L261.29,197.14 L263.02,197.56 L264.76,197.97 L266.5,198.37 L268.23,198.76 L269.97,199.14 L271.7,199.51 L273.44,199.87 L275.18,200.23 L276.91,200.57 L278.65,200.9 L280.38,201.22 L282.12,201.53 L283.86,201.83 L285.59,202.12 L287.33,202.4 L289.06,202.66 L290.8,202.92 L292.54,203.17 L294.27,203.41 L296.01,203.64 L297.74,203.86 L299.48,204.07 L301.22,204.27 L302.95,204.45 L304.69,204.63 L306.42,204.8 L308.16,204.96 L309.9,205.1 L311.63,205.24 L313.37,205.37 L315.1,205.49 L316.84,205.59 L318.58,205.69 L320.31,205.77 L322.05,205.85 L323.78,205.92 L325.52,205.97 L327.26,206.02 L328.99,206.05 L330.73,206.08 L332.46,206.09 L334.2,206.1 L335.94,206.09 L337.67,206.08 L339.41,206.05 L341.14,206.02 L342.88,205.97 L344.62,205.92 L346.35,205.85 L348.09,205.77 L349.82,205.69 L351.56,205.59 L353.3,205.49 L355.03,205.37 L356.77,205.24 L358.5,205.1 L360.24,204.96 L361.98,204.8 L363.71,204.63 L365.45,204.45 L367.18,204.27 L368.92,204.07 L370.66,203.86 L372.39,203.64 L374.13,203.41 L375.86,203.17 L377.6,202.92 L379.34,202.66 L381.07,202.4 L382.81,202.12 L384.54,201.83 L386.28,201.53 L388.02,201.22 L389.75,200.9 L391.49,200.57 L393.22,200.23 L394.96,199.87 L396.7,199.51 L398.43,199.14 L400.17,198.76 L401.9,198.37 L403.64,197.97 L405.38,197.56 L407.11,197.14 L408.85,196.7 L410.58,196.26 L412.32,195.81 L414.06,195.35 L415.79,194.87 L417.53,194.39 L419.26,193.9 L421,193.4" fill="none" stroke="#4CB04C" stroke-width="1.0" />
<path d="M247.4,330.51 L249.14,329.99 L250.87,329.47 L252.61,328.96 L254.34,328.47 L256.08,327.98 L257.82,327.51 L259.55,327.05 L261.29,326.59 L263.02,326.15 L264.76,325.72 L266.5,325.3 L268.23,324.89 L269.97,324.49 L271.7,324.1 L273.44,323.72 L275.18,323.36 L276.91,323 L278.65,322.65 L280.38,322.32 L282.12,321.99 L283.86,321.68 L285.59,321.37 L287.33,321.08 L289.06,320.8 L290.8,320.53 L292.54,320.27 L294.27,320.02 L296.01,319.78 L297.74,319.55 L299.48,319.33 L301.22,319.12 L302.95,318.93 L304.69,318.74 L306.42,318.56 L308.16,318.4 L309.9,318.24 L311.63,318.1 L313.37,317.97 L315.1,317.84 L316.84,317.73 L318.58,317.63 L320.31,317.54 L322.05,317.46 L323.78,317.39 L325.52,317.33 L327.26,317.29 L328.99,317.25 L330.73,317.22 L332.46,317.21 L334.2,317.2 L335.94,317.21 L337.67,317.22 L339.41,317.25 L341.14,317.29 L342.88,317.33 L344.62,317.39 L346.35,317.46 L348.09,317.54 L349.82,317.63 L351.56,317.73 L353.3,317.84 L355.03,317.97 L356.77,318.1 L358.5,318.24 L360.24,318.4 L361.98,318.56 L363.71,318.74 L365.45,318.93 L367.18,319.12 L368.92,319.33 L370.66,319.55 L372.39,319.78 L374.13,320.02 L375.86,320.27 L377.6,320.53 L379.34,320.8 L381.07,321.08 L382.81,321.37 L384.54,321.68 L386.28,321.99 L388.02,322.32 L389.75,322.65 L391.49,323 L393.22,323.36 L394.96,323.72 L396.7,324.1 L398.43,324.49 L400.17,324.89 L401.9,325.3 L403.64,325.72 L405.38,326.15 L407.11,326.59 L408.85,327.05 L410.58,327.51 L412.32,327.98 L414.06,328.47 L415.79,328.96 L417.53,329.47 L419.26,329.99 L421,330.51" fill="none" stroke="#333" stroke-width="1.0" />
<path d="M247.4,254.7 L249.14,254.76 L250.87,254.81 L252.61,254.87 L254.34,254.92 L256.08,254.97 L257.82,255.02 L259.55,255.06 L261.29,255.11 L263.02,255.15 L264.76,255.2 L266.5,255.24 L268.23,255.28 L269.97,255.31 L271.7,255.35 L273.44,255.38 L275.18,255.41 L276.91,255.44 L278.65,255.47 L280.38,255.5 L282.12,255.52 L283.86,255.55 L285.59,255.57 L287.33,255.59 L289.06,255.61 L290.8,255.62 L292.54,255.64 L294.27,255.65 L296.01,255.67 L297.74,255.68 L299.48,255.68 L301.22,255.69 L302.95,255.7 L304.69,255.7 L306.42,255.7 L308.16,255.7 L309.9,255.7 L311.63,255.7 L313.37,255.69 L315.1,255.68 L316.84,255.68 L318.58,255.67 L320.31,255.65 L322.05,255.64 L323.78,255.63 L325.52,255.61 L327.26,255.59 L328.99,255.57 L330.73,255.55 L332.46,255.53 L334.2,255.5 L335.94,255.47 L337.67,255.44 L339.41,255.41 L341.14,255.38 L342.88,255.35 L344.62,255.31 L346.35,255.28 L348.09,255.24 L349.82,255.2 L351.56,255.16 L353.3,255.11 L355.03,255.07 L356.77,255.02 L358.5,254.97 L360.24,254.92 L361.98,254.87 L363.71,254.82 L365.45,254.76 L367.18,254.7 L368.92,254.64 L370.66,254.58 L372.39,254.52 L374.13,254.46 L375.86,254.39 L377.6,254.32 L379.34,254.26 L381.07,254.19 L382.81,254.11 L384.54,254.04 L386.28,253.96 L388.02,253.89 L389.75,253.81 L391.49,253.73 L393.22,253.64 L394.96,253.56 L396.7,253.48 L398.43,253.39 L400.17,253.3 L401.9,253.21 L403.64,253.12 L405.38,253.02 L407.11,252.93 L408.85,252.83 L410.58,252.73 L412.32,252.63 L414.06,252.53 L415.79,252.42 L417.53,252.32 L419.26,252.21 L421,252.1" fill="none" stroke="#4040F0" stroke-width="1.0" />
<path d="M247.4,265.5 L249.14,265.57 L250.87,265.64 L252.61,265.71 L254.34,265.78 L256.08,265.84 L257.82,265.9 L259.55,265.96 L261.29,266.02 L263.02,266.08 L264.76,266.14 L266.5,266.19 L268.23,266.24 L269.97,266.29 L271.7,266.34 L273.44,266.38 L275.18,266.43 L276.91,266.47 L278.65,266.51 L280.38,266.55 L282.12,266.58 L283.86,266.62 L285.59,266.65 L287.33,266.68 L289.06,266.71 L290.8,266.74 L292.54,266.76 L294.27,266.79 L296.01,266.81 L297.74,266.83 L299.48,266.84 L301.22,266.86 L302.95,266.87 L304.69,266.89 L306.42,266.9 L308.16,266.9 L309.9,266.91 L311.63,266.91 L313.37,266.92 L315.1,266.92 L316.84,266.92 L318.58,266.91 L320.31,266.91 L322.05,266.9 L323.78,266.89 L325.52,266.88 L327.26,266.87 L328.99,266.85 L330.73,266.84 L332.46,266.82 L334.2,266.8 L335.94,266.78 L337.67,266.75 L339.41,266.73 L341.14,266.7 L342.88,266.67 L344.62,266.64 L346.35,266.61 L348.09,266.57 L349.82,266.53 L351.56,266.5 L353.3,266.46 L355.03,266.41 L356.77,266.37 L358.5,266.32 L360.24,266.27 L361.98,266.22 L363.71,266.17 L365.45,266.12 L367.18,266.06 L368.92,266 L370.66,265.94 L372.39,265.88 L374.13,265.82 L375.86,265.75 L377.6,265.69 L379.34,265.62 L381.07,265.55 L382.81,265.48 L384.54,265.4 L386.28,265.32 L388.02,265.25 L389.75,265.17 L391.49,265.08 L393.22,265 L394.96,264.91 L396.7,264.83 L398.43,264.74 L400.17,264.64 L401.9,264.55 L403.64,264.46 L405.38,264.36 L407.11,264.26 L408.85,264.16 L410.58,264.06 L412.32,263.95 L414.06,263.84 L415.79,263.74 L417.53,263.63 L419.26,263.51 L421,263.4" fill="none" stroke="#F05050" stroke-width="1.0" />
<line x1="247.4" y1="191.6" x2="421" y2="191.6" stroke="#444" stroke-width="1.0" />
<line x1="247.4" y1="330.6" x2="421" y2="330.6" stroke="#444" stroke-width="1.0" />
<line x1="247.4" y1="191.6" x2="247.4" y2="245.4" stroke="#444" stroke-width="1.0" />
<line x1="247.4" y1="248.6" x2="247.4" y2="273.1" stroke="#444" stroke-width="1.0" />
<line x1="247.4" y1="276.3" x2="247.4" y2="330.6" stroke="#444" stroke-width="1.0" />
<line x1="245.1" y1="247" x2="249.7" y2="244.4" stroke="#444" stroke-width="0.85" />
<line x1="245.1" y1="249.8" x2="249.7" y2="247.2" stroke="#444" stroke-width="0.85" />
<line x1="245.1" y1="274.7" x2="249.7" y2="272.1" stroke="#444" stroke-width="0.85" />
<line x1="245.1" y1="277.5" x2="249.7" y2="274.9" stroke="#444" stroke-width="0.85" />
<line x1="421" y1="191.6" x2="421" y2="245.4" stroke="#444" stroke-width="1.0" />
<line x1="421" y1="248.6" x2="421" y2="273.1" stroke="#444" stroke-width="1.0" />
<line x1="421" y1="276.3" x2="421" y2="330.6" stroke="#444" stroke-width="1.0" />
<line x1="418.7" y1="247" x2="423.3" y2="244.4" stroke="#444" stroke-width="0.85" />
<line x1="418.7" y1="249.8" x2="423.3" y2="247.2" stroke="#444" stroke-width="0.85" />
<line x1="418.7" y1="274.7" x2="423.3" y2="272.1" stroke="#444" stroke-width="0.85" />
<line x1="418.7" y1="277.5" x2="423.3" y2="274.9" stroke="#444" stroke-width="0.85" />
<line x1="247.4" y1="330.6" x2="247.4" y2="327.6" stroke="#444" stroke-width="0.8" />
<line x1="269.1" y1="330.6" x2="269.1" y2="328.8" stroke="#444" stroke-width="0.8" />
<line x1="290.8" y1="330.6" x2="290.8" y2="327.6" stroke="#444" stroke-width="0.8" />
<line x1="312.5" y1="330.6" x2="312.5" y2="328.8" stroke="#444" stroke-width="0.8" />
<line x1="334.2" y1="330.6" x2="334.2" y2="327.6" stroke="#444" stroke-width="0.8" />
<line x1="355.9" y1="330.6" x2="355.9" y2="328.8" stroke="#444" stroke-width="0.8" />
<line x1="377.6" y1="330.6" x2="377.6" y2="327.6" stroke="#444" stroke-width="0.8" />
<line x1="399.3" y1="330.6" x2="399.3" y2="328.8" stroke="#444" stroke-width="0.8" />
<line x1="421" y1="330.6" x2="421" y2="327.6" stroke="#444" stroke-width="0.8" />
<line x1="247.4" y1="197.03" x2="249.2" y2="197.03" stroke="#444" stroke-width="0.8" />
<line x1="247.4" y1="206.1" x2="250.4" y2="206.1" stroke="#444" stroke-width="0.8" />
<line x1="247.4" y1="215.17" x2="249.2" y2="215.17" stroke="#444" stroke-width="0.8" />
<line x1="247.4" y1="224.25" x2="250.4" y2="224.25" stroke="#444" stroke-width="0.8" />
<line x1="247.4" y1="233.32" x2="249.2" y2="233.32" stroke="#444" stroke-width="0.8" />
<line x1="247.4" y1="242.4" x2="250.4" y2="242.4" stroke="#444" stroke-width="0.8" />
<line x1="247.4" y1="279.7" x2="250.4" y2="279.7" stroke="#444" stroke-width="0.8" />
<line x1="247.4" y1="289.07" x2="249.2" y2="289.07" stroke="#444" stroke-width="0.8" />
<line x1="247.4" y1="298.45" x2="250.4" y2="298.45" stroke="#444" stroke-width="0.8" />
<line x1="247.4" y1="307.82" x2="249.2" y2="307.82" stroke="#444" stroke-width="0.8" />
<line x1="247.4" y1="317.2" x2="250.4" y2="317.2" stroke="#444" stroke-width="0.8" />
<line x1="247.4" y1="326.57" x2="249.2" y2="326.57" stroke="#444" stroke-width="0.8" />
<line x1="247.4" y1="253.9" x2="250.4" y2="253.9" stroke="#444" stroke-width="0.8" />
<line x1="247.4" y1="268.4" x2="250.4" y2="268.4" stroke="#444" stroke-width="0.8" />
<line x1="247.4" y1="261.1" x2="249.2" y2="261.1" stroke="#444" stroke-width="0.8" />
<text x="245.4" y="208.6" font-size="9.1" text-anchor="end" font-family='"Liberation Sans", sans-serif' fill="#2a2a2a" font-weight="normal" font-style="normal"  stroke="#2a2a2a" stroke-width="0.22">11.0</text>
<text x="245.4" y="226.75" font-size="9.1" text-anchor="end" font-family='"Liberation Sans", sans-serif' fill="#2a2a2a" font-weight="normal" font-style="normal"  stroke="#2a2a2a" stroke-width="0.22">10.5</text>
<text x="245.4" y="244.9" font-size="9.1" text-anchor="end" font-family='"Liberation Sans", sans-serif' fill="#2a2a2a" font-weight="normal" font-style="normal"  stroke="#2a2a2a" stroke-width="0.22">10.0</text>
<text x="245.4" y="282.2" font-size="9.1" text-anchor="end" font-family='"Liberation Sans", sans-serif' fill="#2a2a2a" font-weight="normal" font-style="normal"  stroke="#2a2a2a" stroke-width="0.22">-10.0</text>
<text x="245.4" y="300.95" font-size="9.1" text-anchor="end" font-family='"Liberation Sans", sans-serif' fill="#2a2a2a" font-weight="normal" font-style="normal"  stroke="#2a2a2a" stroke-width="0.22">-10.5</text>
<text x="245.4" y="319.7" font-size="9.1" text-anchor="end" font-family='"Liberation Sans", sans-serif' fill="#2a2a2a" font-weight="normal" font-style="normal"  stroke="#2a2a2a" stroke-width="0.22">-11.0</text>
<text x="245.4" y="256.4" font-size="9.1" text-anchor="end" font-family='"Liberation Sans", sans-serif' fill="#2a2a2a" font-weight="normal" font-style="normal"  stroke="#2a2a2a" stroke-width="0.22">0.002</text>
<text x="245.4" y="270.9" font-size="9.1" text-anchor="end" font-family='"Liberation Sans", sans-serif' fill="#2a2a2a" font-weight="normal" font-style="normal"  stroke="#2a2a2a" stroke-width="0.22">-0.002</text>
<text x="247.4" y="340.1" font-size="9.1" text-anchor="middle" font-family='"Liberation Sans", sans-serif' fill="#2a2a2a" font-weight="normal" font-style="normal"  stroke="#2a2a2a" stroke-width="0.22">-20</text>
<text x="290.8" y="340.1" font-size="9.1" text-anchor="middle" font-family='"Liberation Sans", sans-serif' fill="#2a2a2a" font-weight="normal" font-style="normal"  stroke="#2a2a2a" stroke-width="0.22">-10</text>
<text x="334.2" y="340.1" font-size="9.1" text-anchor="middle" font-family='"Liberation Sans", sans-serif' fill="#2a2a2a" font-weight="normal" font-style="normal"  stroke="#2a2a2a" stroke-width="0.22">0</text>
<text x="377.6" y="340.1" font-size="9.1" text-anchor="middle" font-family='"Liberation Sans", sans-serif' fill="#2a2a2a" font-weight="normal" font-style="normal"  stroke="#2a2a2a" stroke-width="0.22">10</text>
<text x="421" y="340.1" font-size="9.1" text-anchor="middle" font-family='"Liberation Sans", sans-serif' fill="#2a2a2a" font-weight="normal" font-style="normal"  stroke="#2a2a2a" stroke-width="0.22">20</text>
<text x="334.3" y="349" font-size="10.1" text-anchor="middle" font-family='"Liberation Sans", sans-serif' fill="#222" stroke="#222" stroke-width="0.22"><tspan font-style="italic">B</tspan><tspan font-size="7" dy="2.6">0z</tspan><tspan dy="-2.6"> &#8211; </tspan><tspan font-style="italic">B</tspan><tspan font-size="7" dy="2.6">min</tspan><tspan dy="-2.6"> (mT)</tspan></text>
<text x="0" y="0" font-size="10.4" text-anchor="middle" font-family='"Liberation Sans", sans-serif' fill="#222" font-weight="normal" font-style="normal" transform="translate(218.9,257.4) rotate(-90)" stroke="#222" stroke-width="0.22">Energy (GHz)</text>
<line x1="280.8" y1="258.2" x2="280.8" y2="322" stroke="#2F3FF0" stroke-width="1.1" stroke-dasharray="2.6,1.6"/>
<circle cx="280.8" cy="258.2" r="1.5" fill="#2F3FF0"/>
<circle cx="280.8" cy="322" r="1.5" fill="#2F3FF0"/>
<line x1="385" y1="265.2" x2="385" y2="205" stroke="#2F3FF0" stroke-width="1.1" stroke-dasharray="2.6,1.6"/>
<path d="M385,201.4 L386.8,205 L383.2,205 Z" fill="#2F3FF0"/>
<line x1="387.5" y1="255" x2="387.5" y2="317" stroke="#2F3FF0" stroke-width="1.1" stroke-dasharray="2.6,1.6"/>
<path d="M387.5,320.8 L385.7,317.2 L389.3,317.2 Z" fill="#2F3FF0"/>
<circle cx="384.7" cy="265.2" r="1.5" fill="#2F3FF0"/>
<circle cx="387.5" cy="254.6" r="1.5" fill="#2F3FF0"/>
<ellipse cx="281.2" cy="261" rx="3.5" ry="5.6" fill="none" stroke="#9A35A8" stroke-width="0.9"/>
<path d="M277.7,257.6 L279.7,261.2 L275.7,261.2 Z" fill="#9A35A8"/>
<path d="M284.7,264.2 L282.7,260.6 L286.7,260.6 Z" fill="#9A35A8"/>
<text x="292.0" y="265.3" font-size="10.2" font-family='"Liberation Sans", sans-serif' fill="#9A35A8" stroke="#9A35A8" stroke-width="0.22"><tspan font-weight="bold">E</tspan>-field off</text>
<text x="290" y="294.8" font-size="10.5" font-family='"Liberation Serif", serif' font-style="italic" fill="#2F3FF0" stroke="#2F3FF0" stroke-width="0.22">&#x127;&#x03C9;<tspan font-size="7" dy="2" font-style="normal" font-family='"Liberation Sans", sans-serif'>1</tspan></text>
<text x="364.1" y="235.9" font-size="10.5" font-family='"Liberation Serif", serif' font-style="italic" fill="#2F3FF0" stroke="#2F3FF0" stroke-width="0.22">&#x127;&#x03C9;<tspan font-size="7" dy="2" font-style="normal" font-family='"Liberation Sans", sans-serif'>1</tspan></text>
<text x="364.7" y="295.2" font-size="10.5" font-family='"Liberation Serif", serif' font-style="italic" fill="#2F3FF0" stroke="#2F3FF0" stroke-width="0.22">&#x127;&#x03C9;<tspan font-size="7" dy="2" font-style="normal" font-family='"Liberation Sans", sans-serif'>1</tspan></text>
<line x1="393.2" y1="204.5" x2="393.2" y2="213.2" stroke="#3a3a3a" stroke-width="0.85"/><text x="395 400.4" y="211.9" font-size="10" font-family='"Liberation Serif", serif' fill="#3a3a3a" stroke="#3a3a3a" stroke-width="0.25">11</text><path d="M406.3,204.5 L408.9,208.85 L406.3,213.2" fill="none" stroke="#3a3a3a" stroke-width="0.77"/><text x="409.5" y="209.1" font-size="5.6" font-family='"Liberation Serif", serif' fill="#3a3a3a" stroke="#3a3a3a" stroke-width="0.22">as</text>
<line x1="393.2" y1="236.3" x2="393.2" y2="245" stroke="#3a3a3a" stroke-width="0.85"/><text x="395 400.4" y="243.7" font-size="10" font-family='"Liberation Serif", serif' fill="#3a3a3a" stroke="#3a3a3a" stroke-width="0.25">10</text><path d="M406.3,236.3 L408.9,240.65 L406.3,245" fill="none" stroke="#3a3a3a" stroke-width="0.77"/><text x="409.5" y="240.9" font-size="5.6" font-family='"Liberation Serif", serif' fill="#3a3a3a" stroke="#3a3a3a" stroke-width="0.22">as</text>
<line x1="392.5" y1="271.6" x2="392.5" y2="280.3" stroke="#3a3a3a" stroke-width="0.85"/><text x="394.3 399.7" y="279" font-size="10" font-family='"Liberation Serif", serif' fill="#3a3a3a" stroke="#3a3a3a" stroke-width="0.25">01</text><path d="M405.6,271.6 L408.2,275.95 L405.6,280.3" fill="none" stroke="#3a3a3a" stroke-width="0.77"/><text x="408.8" y="276.2" font-size="5.6" font-family='"Liberation Serif", serif' fill="#3a3a3a" stroke="#3a3a3a" stroke-width="0.22">as</text>
<line x1="392" y1="313.5" x2="392" y2="322.2" stroke="#3a3a3a" stroke-width="0.85"/><text x="393.8 399.2" y="320.9" font-size="10" font-family='"Liberation Serif", serif' fill="#3a3a3a" stroke="#3a3a3a" stroke-width="0.25">00</text><path d="M405.1,313.5 L407.7,317.85 L405.1,322.2" fill="none" stroke="#3a3a3a" stroke-width="0.77"/><text x="408.3" y="318.1" font-size="5.6" font-family='"Liberation Serif", serif' fill="#3a3a3a" stroke="#3a3a3a" stroke-width="0.22">as</text>
<text x="427.6" y="186.8" font-size="10.4" text-anchor="start" font-family='"Liberation Sans", sans-serif' fill="#111" font-weight="bold" font-style="normal"  stroke="#111" stroke-width="0.22">(f)</text>
<text x="438.2" y="194.5" font-size="8.6" text-anchor="start" font-family='"Liberation Sans", sans-serif' fill="#222" font-weight="normal" font-style="normal"  stroke="#222" stroke-width="0.22">Train of 8 <tspan font-family='"Liberation Serif", serif' font-style="italic">&#x03C0;</tspan> pulses</text>
<line x1="439.4" y1="212.8" x2="679" y2="212.8" stroke="#333" stroke-width="0.8" />
<path d="M683.5,212.8 L678.5,215 L678.5,210.6 Z" fill="#111"/>
<rect x="446.5" y="198.7" width="4.8" height="14.1" fill="#FFBF00" stroke="#444" stroke-width="0.5"/>
<rect x="456.4" y="198.7" width="5" height="14.1" fill="#FFBF00" stroke="#444" stroke-width="0.5"/>
<rect x="466.2" y="198.7" width="4.9" height="14.1" fill="#FFBF00" stroke="#444" stroke-width="0.5"/>
<rect x="490.1" y="198.7" width="4.6" height="14.1" fill="#FFBF00" stroke="#444" stroke-width="0.5"/>
<text x="480.5" y="208.5" font-size="8.5" text-anchor="middle" font-family='"Liberation Sans", sans-serif' fill="#222" font-weight="normal" font-style="normal"  stroke="#222" stroke-width="0.22">&#8230;</text>
<rect x="518.4" y="198.1" width="47.8" height="14.7" fill="#FFBF00" stroke="#444" stroke-width="0.5"/>
<rect x="623.6" y="198.1" width="48.2" height="14.7" fill="#FFBF00" stroke="#444" stroke-width="0.5"/>
<text x="528.0" y="194" font-size="10.2" font-family='"Liberation Serif", serif' fill="#222" stroke="#222" stroke-width="0.22"><tspan font-style="italic">&#x03C0;</tspan>, <tspan font-style="italic">&#x127;&#x03C9;</tspan><tspan font-size="6.5" dy="1.8" font-family='"Liberation Sans", sans-serif'>1</tspan></text>
<text x="635.6" y="193.6" font-size="10.2" font-family='"Liberation Sans", sans-serif' fill="#222" stroke="#222" stroke-width="0.22">&#x03C0;, <tspan font-family='"Liberation Serif", serif' font-style="italic">&#x127;&#x03C9;</tspan><tspan font-size="6.5" dy="1.8">1</tspan></text>
<line x1="446.5" y1="213" x2="446.5" y2="222" stroke="#222" stroke-width="0.7" />
<line x1="494.5" y1="213" x2="494.5" y2="222" stroke="#222" stroke-width="0.7" />
<line x1="449" y1="218.2" x2="492" y2="218.2" stroke="#222" stroke-width="0.8" />
<path d="M446.8,218.2 L450.3,216.5 L450.3,219.9 Z" fill="#111"/>
<path d="M494.2,218.2 L490.7,219.9 L490.7,216.5 Z" fill="#111"/>
<text x="472" y="227.5" font-size="8.6" text-anchor="middle" font-family='"Liberation Sans", sans-serif' fill="#222" font-weight="normal" font-style="normal"  stroke="#222" stroke-width="0.22">Initialization</text>
<line x1="440.2" y1="253.3" x2="679" y2="253.3" stroke="#333" stroke-width="0.8" />
<path d="M683.5,253.3 L678.5,255.5 L678.5,251.1 Z" fill="#111"/>
<rect x="518.4" y="239.2" width="47.7" height="14.1" fill="#0AA0E8" stroke="#444" stroke-width="0.5"/>
<rect x="623.7" y="239.2" width="48.1" height="14.1" fill="#0AA0E8" stroke="#444" stroke-width="0.5"/>
<text x="541" y="234.8" font-size="9" text-anchor="middle" font-family='"Liberation Sans", sans-serif' fill="#222" stroke="#222" stroke-width="0.22"><tspan font-weight="bold">E</tspan>-field</text>
<text x="648.5" y="234.8" font-size="9" text-anchor="middle" font-family='"Liberation Sans", sans-serif' fill="#222" stroke="#222" stroke-width="0.22"><tspan font-weight="bold">E</tspan>-field</text>
<line x1="570" y1="247.2" x2="619.5" y2="247.2" stroke="#222" stroke-width="0.8" />
<path d="M567.2,247.2 L571,245.4 L571,249 Z" fill="#111"/>
<path d="M622.3,247.2 L618.5,249 L618.5,245.4 Z" fill="#111"/>
<text x="593" y="243.5" font-size="9.5" font-family='"Liberation Serif", serif' font-style="italic" fill="#222" stroke="#222" stroke-width="0.22">t<tspan font-size="6.5" dy="1.5" font-style="normal">S</tspan></text>
<line x1="518.4" y1="253.3" x2="518.4" y2="262" stroke="#333" stroke-width="0.7" />
<line x1="566.1" y1="253.3" x2="566.1" y2="262" stroke="#333" stroke-width="0.7" />
<line x1="623.7" y1="253.3" x2="623.7" y2="262" stroke="#333" stroke-width="0.7" />
<line x1="671.8" y1="253.3" x2="671.8" y2="262" stroke="#333" stroke-width="0.7" />
<line x1="507" y1="266.27" x2="507" y2="274.54" stroke="#3a3a3a" stroke-width="0.81"/><text x="508.71 513.51" y="273.3" font-size="9.5" font-family='"Liberation Serif", serif' fill="#3a3a3a" stroke="#3a3a3a" stroke-width="0.25">00</text><path d="M519.12,266.27 L521.59,270.4 L519.12,274.54" fill="none" stroke="#3a3a3a" stroke-width="0.73"/><text x="522.19" y="270.64" font-size="5.2" font-family='"Liberation Serif", serif' fill="#3a3a3a" stroke="#3a3a3a" stroke-width="0.22">as</text>
<line x1="528.4" y1="270" x2="556" y2="270" stroke="#222" stroke-width="0.8" />
<path d="M559.5,270 L555.7,271.8 L555.7,268.2 Z" fill="#111"/>
<line x1="560.1" y1="266.17" x2="560.1" y2="274.44" stroke="#3a3a3a" stroke-width="0.81"/><text x="561.81 566.61" y="273.2" font-size="9.5" font-family='"Liberation Serif", serif' fill="#3a3a3a" stroke="#3a3a3a" stroke-width="0.25">10</text><path d="M572.22,266.17 L574.69,270.3 L572.22,274.44" fill="none" stroke="#3a3a3a" stroke-width="0.73"/><text x="575.29" y="270.54" font-size="5.2" font-family='"Liberation Serif", serif' fill="#3a3a3a" stroke="#3a3a3a" stroke-width="0.22">as</text>
<line x1="581" y1="270" x2="618" y2="270" stroke="#222" stroke-width="0.8" />
<path d="M621.6,270 L617.8,271.8 L617.8,268.2 Z" fill="#111"/>
<text x="587.6" y="266" font-size="9.1" font-family='"Liberation Serif", serif' font-style="italic" fill="#333" letter-spacing="0.1" stroke="#333" stroke-width="0.22">SWAP</text>
<path d="M582.9,263 L583.9,262.4 L585.4,266.3 L587.9,258.4 L611.8,258.4" fill="none" stroke="#333" stroke-width="0.7"/>
<text x="621.7" y="273.2" font-size="9.5" font-family='"Liberation Serif", serif' fill="#333" stroke="#333" stroke-width="0.22">&#x03A8;<tspan font-size="5.5" dy="-4">&#xB1;</tspan><tspan font-size="5.5" dx="-3.5" dy="6">23</tspan></text>
<line x1="636" y1="270" x2="666" y2="270" stroke="#222" stroke-width="0.8" />
<path d="M669.7,270 L665.9,271.8 L665.9,268.2 Z" fill="#111"/>
<text x="669.8" y="273.2" font-size="9.5" font-family='"Liberation Serif", serif' fill="#333" stroke="#333" stroke-width="0.22">&#x03A6;<tspan font-size="5.5" dy="-4">&#xB1;</tspan><tspan font-size="5.5" dx="-3.5" dy="6">14</tspan></text>
<text x="428.7" y="275.9" font-size="10.4" text-anchor="start" font-family='"Liberation Sans", sans-serif' fill="#111" font-weight="bold" font-style="normal"  stroke="#111" stroke-width="0.22">g)</text>
<line x1="453.7" y1="333" x2="453.7" y2="292" stroke="#dadada" stroke-width="0.5" />
<line x1="462.4" y1="330.05" x2="462.4" y2="289.05" stroke="#dadada" stroke-width="0.5" />
<line x1="471.1" y1="327.1" x2="471.1" y2="286.1" stroke="#dadada" stroke-width="0.5" />
<line x1="479.8" y1="324.15" x2="479.8" y2="283.15" stroke="#dadada" stroke-width="0.5" />
<line x1="488.5" y1="321.2" x2="488.5" y2="280.2" stroke="#dadada" stroke-width="0.5" />
<line x1="453.7" y1="322.75" x2="488.5" y2="310.95" stroke="#dadada" stroke-width="0.5" />
<line x1="453.7" y1="312.5" x2="488.5" y2="300.7" stroke="#dadada" stroke-width="0.5" />
<line x1="453.7" y1="302.25" x2="488.5" y2="290.45" stroke="#dadada" stroke-width="0.5" />
<line x1="453.7" y1="292" x2="488.5" y2="280.2" stroke="#dadada" stroke-width="0.5" />
<line x1="488.5" y1="321.2" x2="488.5" y2="280.2" stroke="#dadada" stroke-width="0.5" />
<line x1="496.57" y1="324" x2="496.57" y2="283" stroke="#dadada" stroke-width="0.5" />
<line x1="504.65" y1="326.8" x2="504.65" y2="285.8" stroke="#dadada" stroke-width="0.5" />
<line x1="512.73" y1="329.6" x2="512.73" y2="288.6" stroke="#dadada" stroke-width="0.5" />
<line x1="520.8" y1="332.4" x2="520.8" y2="291.4" stroke="#dadada" stroke-width="0.5" />
<line x1="488.5" y1="310.95" x2="520.8" y2="322.15" stroke="#dadada" stroke-width="0.5" />
<line x1="488.5" y1="300.7" x2="520.8" y2="311.9" stroke="#dadada" stroke-width="0.5" />
<line x1="488.5" y1="290.45" x2="520.8" y2="301.65" stroke="#dadada" stroke-width="0.5" />
<line x1="488.5" y1="280.2" x2="520.8" y2="291.4" stroke="#dadada" stroke-width="0.5" />
<line x1="453.7" y1="333" x2="488.5" y2="321.2" stroke="#dadada" stroke-width="0.5" />
<line x1="461.77" y1="335.8" x2="496.57" y2="324" stroke="#dadada" stroke-width="0.5" />
<line x1="469.85" y1="338.6" x2="504.65" y2="326.8" stroke="#dadada" stroke-width="0.5" />
<line x1="477.93" y1="341.4" x2="512.73" y2="329.6" stroke="#dadada" stroke-width="0.5" />
<line x1="486" y1="344.2" x2="520.8" y2="332.4" stroke="#dadada" stroke-width="0.5" />
<line x1="453.7" y1="333" x2="486" y2="344.2" stroke="#dadada" stroke-width="0.5" />
<line x1="462.4" y1="330.05" x2="494.7" y2="341.25" stroke="#dadada" stroke-width="0.5" />
<line x1="471.1" y1="327.1" x2="503.4" y2="338.3" stroke="#dadada" stroke-width="0.5" />
<line x1="479.8" y1="324.15" x2="512.1" y2="335.35" stroke="#dadada" stroke-width="0.5" />
<line x1="488.5" y1="321.2" x2="520.8" y2="332.4" stroke="#dadada" stroke-width="0.5" />
<polyline points="453.7,333 486,344.2 520.8,332.4" fill="none" stroke="#777" stroke-width="0.7"/>
<line x1="453.7" y1="333" x2="453.7" y2="292" stroke="#888" stroke-width="0.7" />
<polygon points="453.7,333 461.77,335.8 461.77,294.8 453.7,292" fill="#8A8AE2" stroke="#666" stroke-width="0.35" stroke-opacity="0.7"/>
<polygon points="461.77,335.8 470.47,332.85 470.47,291.85 461.77,294.8" fill="#A9A9F2" stroke="#666" stroke-width="0.35" stroke-opacity="0.7"/>
<polygon points="453.7,292 461.77,294.8 470.47,291.85 462.4,289.05" fill="#7474C8" stroke="#666" stroke-width="0.35" stroke-opacity="0.7"/>
<path d="M451.5,335.8 L450,339.1 L451.5,342.4" fill="none" stroke="#3a3a3a" stroke-width="0.6"/>
<text x="454.6" y="341.6" font-size="7.6" text-anchor="middle" font-family='"Liberation Serif", serif' fill="#3a3a3a" stroke="#3a3a3a" stroke-width="0.22">1</text>
<line x1="457.5" y1="335.8" x2="457.5" y2="342.5" stroke="#3a3a3a" stroke-width="0.6" />
<path d="M460.7,339.25 L459.2,342.55 L460.7,345.85" fill="none" stroke="#3a3a3a" stroke-width="0.6"/>
<text x="463.8" y="345.05" font-size="7.6" text-anchor="middle" font-family='"Liberation Serif", serif' fill="#3a3a3a" stroke="#3a3a3a" stroke-width="0.22">2</text>
<line x1="466.7" y1="339.25" x2="466.7" y2="345.95" stroke="#3a3a3a" stroke-width="0.6" />
<path d="M469.9,342.7 L468.4,346 L469.9,349.3" fill="none" stroke="#3a3a3a" stroke-width="0.6"/>
<text x="473" y="348.5" font-size="7.6" text-anchor="middle" font-family='"Liberation Serif", serif' fill="#3a3a3a" stroke="#3a3a3a" stroke-width="0.22">3</text>
<line x1="475.9" y1="342.7" x2="475.9" y2="349.4" stroke="#3a3a3a" stroke-width="0.6" />
<path d="M479.1,346.15 L477.6,349.45 L479.1,352.75" fill="none" stroke="#3a3a3a" stroke-width="0.6"/>
<text x="482.2" y="351.95" font-size="7.6" text-anchor="middle" font-family='"Liberation Serif", serif' fill="#3a3a3a" stroke="#3a3a3a" stroke-width="0.22">4</text>
<line x1="485.1" y1="346.15" x2="485.1" y2="352.85" stroke="#3a3a3a" stroke-width="0.6" />
<line x1="489.6" y1="345.85" x2="489.6" y2="352.55" stroke="#3a3a3a" stroke-width="0.6" />
<text x="492.8" y="351.65" font-size="7.6" text-anchor="middle" font-family='"Liberation Serif", serif' fill="#3a3a3a" stroke="#3a3a3a" stroke-width="0.22">1</text>
<path d="M494.9,345.85 L496.5,349.15 L494.9,352.45" fill="none" stroke="#3a3a3a" stroke-width="0.6"/>
<line x1="498.55" y1="342.28" x2="498.55" y2="348.98" stroke="#3a3a3a" stroke-width="0.6" />
<text x="501.75" y="348.08" font-size="7.6" text-anchor="middle" font-family='"Liberation Serif", serif' fill="#3a3a3a" stroke="#3a3a3a" stroke-width="0.22">2</text>
<path d="M503.85,342.28 L505.45,345.58 L503.85,348.88" fill="none" stroke="#3a3a3a" stroke-width="0.6"/>
<line x1="507.5" y1="338.71" x2="507.5" y2="345.41" stroke="#3a3a3a" stroke-width="0.6" />
<text x="510.7" y="344.51" font-size="7.6" text-anchor="middle" font-family='"Liberation Serif", serif' fill="#3a3a3a" stroke="#3a3a3a" stroke-width="0.22">3</text>
<path d="M512.8,338.71 L514.4,342.01 L512.8,345.31" fill="none" stroke="#3a3a3a" stroke-width="0.6"/>
<line x1="516.45" y1="335.14" x2="516.45" y2="341.84" stroke="#3a3a3a" stroke-width="0.6" />
<text x="519.65" y="340.94" font-size="7.6" text-anchor="middle" font-family='"Liberation Serif", serif' fill="#3a3a3a" stroke="#3a3a3a" stroke-width="0.22">4</text>
<path d="M521.75,335.14 L523.35,338.44 L521.75,341.74" fill="none" stroke="#3a3a3a" stroke-width="0.6"/>
<line x1="482.4" y1="282.03" x2="482.4" y2="291.17" stroke="#3a3a3a" stroke-width="0.89"/><text x="484.29 488.89" y="289.8" font-size="10.5" font-family='"Liberation Serif", serif' fill="#3a3a3a" stroke="#3a3a3a" stroke-width="0.25">00</text><path d="M495.08,282.03 L497.81,286.6 L495.08,291.17" fill="none" stroke="#3a3a3a" stroke-width="0.8"/><text x="498.42" y="286.86" font-size="5.6" font-family='"Liberation Serif", serif' fill="#3a3a3a" stroke="#3a3a3a" stroke-width="0.22">as</text>
<line x1="533.4" y1="332.7" x2="533.4" y2="291.7" stroke="#dadada" stroke-width="0.5" />
<line x1="542.1" y1="329.75" x2="542.1" y2="288.75" stroke="#dadada" stroke-width="0.5" />
<line x1="550.8" y1="326.8" x2="550.8" y2="285.8" stroke="#dadada" stroke-width="0.5" />
<line x1="559.5" y1="323.85" x2="559.5" y2="282.85" stroke="#dadada" stroke-width="0.5" />
<line x1="568.2" y1="320.9" x2="568.2" y2="279.9" stroke="#dadada" stroke-width="0.5" />
<line x1="533.4" y1="322.45" x2="568.2" y2="310.65" stroke="#dadada" stroke-width="0.5" />
<line x1="533.4" y1="312.2" x2="568.2" y2="300.4" stroke="#dadada" stroke-width="0.5" />
<line x1="533.4" y1="301.95" x2="568.2" y2="290.15" stroke="#dadada" stroke-width="0.5" />
<line x1="533.4" y1="291.7" x2="568.2" y2="279.9" stroke="#dadada" stroke-width="0.5" />
<line x1="568.2" y1="320.9" x2="568.2" y2="279.9" stroke="#dadada" stroke-width="0.5" />
<line x1="576.27" y1="323.7" x2="576.27" y2="282.7" stroke="#dadada" stroke-width="0.5" />
<line x1="584.35" y1="326.5" x2="584.35" y2="285.5" stroke="#dadada" stroke-width="0.5" />
<line x1="592.42" y1="329.3" x2="592.42" y2="288.3" stroke="#dadada" stroke-width="0.5" />
<line x1="600.5" y1="332.1" x2="600.5" y2="291.1" stroke="#dadada" stroke-width="0.5" />
<line x1="568.2" y1="310.65" x2="600.5" y2="321.85" stroke="#dadada" stroke-width="0.5" />
<line x1="568.2" y1="300.4" x2="600.5" y2="311.6" stroke="#dadada" stroke-width="0.5" />
<line x1="568.2" y1="290.15" x2="600.5" y2="301.35" stroke="#dadada" stroke-width="0.5" />
<line x1="568.2" y1="279.9" x2="600.5" y2="291.1" stroke="#dadada" stroke-width="0.5" />
<line x1="533.4" y1="332.7" x2="568.2" y2="320.9" stroke="#dadada" stroke-width="0.5" />
<line x1="541.48" y1="335.5" x2="576.27" y2="323.7" stroke="#dadada" stroke-width="0.5" />
<line x1="549.55" y1="338.3" x2="584.35" y2="326.5" stroke="#dadada" stroke-width="0.5" />
<line x1="557.62" y1="341.1" x2="592.42" y2="329.3" stroke="#dadada" stroke-width="0.5" />
<line x1="565.7" y1="343.9" x2="600.5" y2="332.1" stroke="#dadada" stroke-width="0.5" />
<line x1="533.4" y1="332.7" x2="565.7" y2="343.9" stroke="#dadada" stroke-width="0.5" />
<line x1="542.1" y1="329.75" x2="574.4" y2="340.95" stroke="#dadada" stroke-width="0.5" />
<line x1="550.8" y1="326.8" x2="583.1" y2="338" stroke="#dadada" stroke-width="0.5" />
<line x1="559.5" y1="323.85" x2="591.8" y2="335.05" stroke="#dadada" stroke-width="0.5" />
<line x1="568.2" y1="320.9" x2="600.5" y2="332.1" stroke="#dadada" stroke-width="0.5" />
<polyline points="533.4,332.7 565.7,343.9 600.5,332.1" fill="none" stroke="#777" stroke-width="0.7"/>
<line x1="533.4" y1="332.7" x2="533.4" y2="291.7" stroke="#888" stroke-width="0.7" />
<polygon points="558.88,329.6 566.95,332.4 566.95,311.9 558.88,309.1" fill="#F8CC20" stroke="#666" stroke-width="0.35" stroke-opacity="0.7"/>
<polygon points="566.95,332.4 575.65,329.45 575.65,308.95 566.95,311.9" fill="#FAD866" stroke="#666" stroke-width="0.35" stroke-opacity="0.7"/>
<polygon points="558.88,309.1 566.95,311.9 575.65,308.95 567.58,306.15" fill="#D8AE10" stroke="#666" stroke-width="0.35" stroke-opacity="0.7"/>
<polygon points="566.95,332.4 575.02,335.2 575.02,314.7 566.95,311.9" fill="#8A8AE2" stroke="#666" stroke-width="0.35" stroke-opacity="0.7"/>
<polygon points="575.02,335.2 583.73,332.25 583.73,311.75 575.02,314.7" fill="#A9A9F2" stroke="#666" stroke-width="0.35" stroke-opacity="0.7"/>
<polygon points="566.95,311.9 575.02,314.7 583.73,311.75 575.65,308.95" fill="#7474C8" stroke="#666" stroke-width="0.35" stroke-opacity="0.7"/>
<polygon points="550.18,332.55 558.25,335.35 558.25,314.85 550.18,312.05" fill="#8A8AE2" stroke="#666" stroke-width="0.35" stroke-opacity="0.7"/>
<polygon points="558.25,335.35 566.95,332.4 566.95,311.9 558.25,314.85" fill="#A9A9F2" stroke="#666" stroke-width="0.35" stroke-opacity="0.7"/>
<polygon points="550.18,312.05 558.25,314.85 566.95,311.9 558.88,309.1" fill="#7474C8" stroke="#666" stroke-width="0.35" stroke-opacity="0.7"/>
<polygon points="558.25,335.35 566.33,338.15 566.33,317.65 558.25,314.85" fill="#F8CC20" stroke="#666" stroke-width="0.35" stroke-opacity="0.7"/>
<polygon points="566.33,338.15 575.02,335.2 575.02,314.7 566.33,317.65" fill="#FAD866" stroke="#666" stroke-width="0.35" stroke-opacity="0.7"/>
<polygon points="558.25,314.85 566.33,317.65 575.02,314.7 566.95,311.9" fill="#D8AE10" stroke="#666" stroke-width="0.35" stroke-opacity="0.7"/>
<path d="M531.2,335.5 L529.7,338.8 L531.2,342.1" fill="none" stroke="#3a3a3a" stroke-width="0.6"/>
<text x="534.3" y="341.3" font-size="7.6" text-anchor="middle" font-family='"Liberation Serif", serif' fill="#3a3a3a" stroke="#3a3a3a" stroke-width="0.22">1</text>
<line x1="537.2" y1="335.5" x2="537.2" y2="342.2" stroke="#3a3a3a" stroke-width="0.6" />
<path d="M540.4,338.95 L538.9,342.25 L540.4,345.55" fill="none" stroke="#3a3a3a" stroke-width="0.6"/>
<text x="543.5" y="344.75" font-size="7.6" text-anchor="middle" font-family='"Liberation Serif", serif' fill="#3a3a3a" stroke="#3a3a3a" stroke-width="0.22">2</text>
<line x1="546.4" y1="338.95" x2="546.4" y2="345.65" stroke="#3a3a3a" stroke-width="0.6" />
<path d="M549.6,342.4 L548.1,345.7 L549.6,349" fill="none" stroke="#3a3a3a" stroke-width="0.6"/>
<text x="552.7" y="348.2" font-size="7.6" text-anchor="middle" font-family='"Liberation Serif", serif' fill="#3a3a3a" stroke="#3a3a3a" stroke-width="0.22">3</text>
<line x1="555.6" y1="342.4" x2="555.6" y2="349.1" stroke="#3a3a3a" stroke-width="0.6" />
<path d="M558.8,345.85 L557.3,349.15 L558.8,352.45" fill="none" stroke="#3a3a3a" stroke-width="0.6"/>
<text x="561.9" y="351.65" font-size="7.6" text-anchor="middle" font-family='"Liberation Serif", serif' fill="#3a3a3a" stroke="#3a3a3a" stroke-width="0.22">4</text>
<line x1="564.8" y1="345.85" x2="564.8" y2="352.55" stroke="#3a3a3a" stroke-width="0.6" />
<line x1="569.3" y1="345.55" x2="569.3" y2="352.25" stroke="#3a3a3a" stroke-width="0.6" />
<text x="572.5" y="351.35" font-size="7.6" text-anchor="middle" font-family='"Liberation Serif", serif' fill="#3a3a3a" stroke="#3a3a3a" stroke-width="0.22">1</text>
<path d="M574.6,345.55 L576.2,348.85 L574.6,352.15" fill="none" stroke="#3a3a3a" stroke-width="0.6"/>
<line x1="578.25" y1="341.98" x2="578.25" y2="348.68" stroke="#3a3a3a" stroke-width="0.6" />
<text x="581.45" y="347.78" font-size="7.6" text-anchor="middle" font-family='"Liberation Serif", serif' fill="#3a3a3a" stroke="#3a3a3a" stroke-width="0.22">2</text>
<path d="M583.55,341.98 L585.15,345.28 L583.55,348.58" fill="none" stroke="#3a3a3a" stroke-width="0.6"/>
<line x1="587.2" y1="338.41" x2="587.2" y2="345.11" stroke="#3a3a3a" stroke-width="0.6" />
<text x="590.4" y="344.21" font-size="7.6" text-anchor="middle" font-family='"Liberation Serif", serif' fill="#3a3a3a" stroke="#3a3a3a" stroke-width="0.22">3</text>
<path d="M592.5,338.41 L594.1,341.71 L592.5,345.01" fill="none" stroke="#3a3a3a" stroke-width="0.6"/>
<line x1="596.15" y1="334.84" x2="596.15" y2="341.54" stroke="#3a3a3a" stroke-width="0.6" />
<text x="599.35" y="340.64" font-size="7.6" text-anchor="middle" font-family='"Liberation Serif", serif' fill="#3a3a3a" stroke="#3a3a3a" stroke-width="0.22">4</text>
<path d="M601.45,334.84 L603.05,338.14 L601.45,341.44" fill="none" stroke="#3a3a3a" stroke-width="0.6"/>
<text x="561.3" y="288.6" font-size="10.5" font-family='"Liberation Serif", serif' fill="#222" stroke="#222" stroke-width="0.22">&#x03A8;</text>
<text x="569.6" y="283.8" font-size="4.5" font-family='"Liberation Serif", serif' fill="#888" stroke="#888" stroke-width="0.22">&#xB1;</text>
<text x="569.6" y="292" font-size="5.6" font-family='"Liberation Serif", serif' fill="#222" stroke="#222" stroke-width="0.22">23</text>
<line x1="612.8" y1="332.6" x2="612.8" y2="291.6" stroke="#dadada" stroke-width="0.5" />
<line x1="621.5" y1="329.65" x2="621.5" y2="288.65" stroke="#dadada" stroke-width="0.5" />
<line x1="630.2" y1="326.7" x2="630.2" y2="285.7" stroke="#dadada" stroke-width="0.5" />
<line x1="638.9" y1="323.75" x2="638.9" y2="282.75" stroke="#dadada" stroke-width="0.5" />
<line x1="647.6" y1="320.8" x2="647.6" y2="279.8" stroke="#dadada" stroke-width="0.5" />
<line x1="612.8" y1="322.35" x2="647.6" y2="310.55" stroke="#dadada" stroke-width="0.5" />
<line x1="612.8" y1="312.1" x2="647.6" y2="300.3" stroke="#dadada" stroke-width="0.5" />
<line x1="612.8" y1="301.85" x2="647.6" y2="290.05" stroke="#dadada" stroke-width="0.5" />
<line x1="612.8" y1="291.6" x2="647.6" y2="279.8" stroke="#dadada" stroke-width="0.5" />
<line x1="647.6" y1="320.8" x2="647.6" y2="279.8" stroke="#dadada" stroke-width="0.5" />
<line x1="655.67" y1="323.6" x2="655.67" y2="282.6" stroke="#dadada" stroke-width="0.5" />
<line x1="663.75" y1="326.4" x2="663.75" y2="285.4" stroke="#dadada" stroke-width="0.5" />
<line x1="671.82" y1="329.2" x2="671.82" y2="288.2" stroke="#dadada" stroke-width="0.5" />
<line x1="679.9" y1="332" x2="679.9" y2="291" stroke="#dadada" stroke-width="0.5" />
<line x1="647.6" y1="310.55" x2="679.9" y2="321.75" stroke="#dadada" stroke-width="0.5" />
<line x1="647.6" y1="300.3" x2="679.9" y2="311.5" stroke="#dadada" stroke-width="0.5" />
<line x1="647.6" y1="290.05" x2="679.9" y2="301.25" stroke="#dadada" stroke-width="0.5" />
<line x1="647.6" y1="279.8" x2="679.9" y2="291" stroke="#dadada" stroke-width="0.5" />
<line x1="612.8" y1="332.6" x2="647.6" y2="320.8" stroke="#dadada" stroke-width="0.5" />
<line x1="620.88" y1="335.4" x2="655.67" y2="323.6" stroke="#dadada" stroke-width="0.5" />
<line x1="628.95" y1="338.2" x2="663.75" y2="326.4" stroke="#dadada" stroke-width="0.5" />
<line x1="637.02" y1="341" x2="671.82" y2="329.2" stroke="#dadada" stroke-width="0.5" />
<line x1="645.1" y1="343.8" x2="679.9" y2="332" stroke="#dadada" stroke-width="0.5" />
<line x1="612.8" y1="332.6" x2="645.1" y2="343.8" stroke="#dadada" stroke-width="0.5" />
<line x1="621.5" y1="329.65" x2="653.8" y2="340.85" stroke="#dadada" stroke-width="0.5" />
<line x1="630.2" y1="326.7" x2="662.5" y2="337.9" stroke="#dadada" stroke-width="0.5" />
<line x1="638.9" y1="323.75" x2="671.2" y2="334.95" stroke="#dadada" stroke-width="0.5" />
<line x1="647.6" y1="320.8" x2="679.9" y2="332" stroke="#dadada" stroke-width="0.5" />
<polyline points="612.8,332.6 645.1,343.8 679.9,332" fill="none" stroke="#777" stroke-width="0.7"/>
<line x1="612.8" y1="332.6" x2="612.8" y2="291.6" stroke="#888" stroke-width="0.7" />
<polygon points="638.9,323.75 646.98,326.55 646.98,306.05 638.9,303.25" fill="#F8CC20" stroke="#666" stroke-width="0.35" stroke-opacity="0.7"/>
<polygon points="646.98,326.55 655.67,323.6 655.67,303.1 646.98,306.05" fill="#FAD866" stroke="#666" stroke-width="0.35" stroke-opacity="0.7"/>
<polygon points="638.9,303.25 646.98,306.05 655.67,303.1 647.6,300.3" fill="#D8AE10" stroke="#666" stroke-width="0.35" stroke-opacity="0.7"/>
<polygon points="663.12,332.15 671.2,334.95 671.2,314.45 663.12,311.65" fill="#8A8AE2" stroke="#666" stroke-width="0.35" stroke-opacity="0.7"/>
<polygon points="671.2,334.95 679.9,332 679.9,311.5 671.2,314.45" fill="#A9A9F2" stroke="#666" stroke-width="0.35" stroke-opacity="0.7"/>
<polygon points="663.12,311.65 671.2,314.45 679.9,311.5 671.82,308.7" fill="#7474C8" stroke="#666" stroke-width="0.35" stroke-opacity="0.7"/>
<polygon points="612.8,332.6 620.88,335.4 620.88,314.9 612.8,312.1" fill="#8A8AE2" stroke="#666" stroke-width="0.35" stroke-opacity="0.7"/>
<polygon points="620.88,335.4 629.58,332.45 629.58,311.95 620.88,314.9" fill="#A9A9F2" stroke="#666" stroke-width="0.35" stroke-opacity="0.7"/>
<polygon points="612.8,312.1 620.88,314.9 629.58,311.95 621.5,309.15" fill="#7474C8" stroke="#666" stroke-width="0.35" stroke-opacity="0.7"/>
<polygon points="637.02,341 645.1,343.8 645.1,323.3 637.02,320.5" fill="#F8CC20" stroke="#666" stroke-width="0.35" stroke-opacity="0.7"/>
<polygon points="645.1,343.8 653.8,340.85 653.8,320.35 645.1,323.3" fill="#FAD866" stroke="#666" stroke-width="0.35" stroke-opacity="0.7"/>
<polygon points="637.02,320.5 645.1,323.3 653.8,320.35 645.73,317.55" fill="#D8AE10" stroke="#666" stroke-width="0.35" stroke-opacity="0.7"/>
<path d="M610.6,335.4 L609.1,338.7 L610.6,342" fill="none" stroke="#3a3a3a" stroke-width="0.6"/>
<text x="613.7" y="341.2" font-size="7.6" text-anchor="middle" font-family='"Liberation Serif", serif' fill="#3a3a3a" stroke="#3a3a3a" stroke-width="0.22">1</text>
<line x1="616.6" y1="335.4" x2="616.6" y2="342.1" stroke="#3a3a3a" stroke-width="0.6" />
<path d="M619.8,338.85 L618.3,342.15 L619.8,345.45" fill="none" stroke="#3a3a3a" stroke-width="0.6"/>
<text x="622.9" y="344.65" font-size="7.6" text-anchor="middle" font-family='"Liberation Serif", serif' fill="#3a3a3a" stroke="#3a3a3a" stroke-width="0.22">2</text>
<line x1="625.8" y1="338.85" x2="625.8" y2="345.55" stroke="#3a3a3a" stroke-width="0.6" />
<path d="M629,342.3 L627.5,345.6 L629,348.9" fill="none" stroke="#3a3a3a" stroke-width="0.6"/>
<text x="632.1" y="348.1" font-size="7.6" text-anchor="middle" font-family='"Liberation Serif", serif' fill="#3a3a3a" stroke="#3a3a3a" stroke-width="0.22">3</text>
<line x1="635" y1="342.3" x2="635" y2="349" stroke="#3a3a3a" stroke-width="0.6" />
<path d="M638.2,345.75 L636.7,349.05 L638.2,352.35" fill="none" stroke="#3a3a3a" stroke-width="0.6"/>
<text x="641.3" y="351.55" font-size="7.6" text-anchor="middle" font-family='"Liberation Serif", serif' fill="#3a3a3a" stroke="#3a3a3a" stroke-width="0.22">4</text>
<line x1="644.2" y1="345.75" x2="644.2" y2="352.45" stroke="#3a3a3a" stroke-width="0.6" />
<line x1="648.7" y1="345.45" x2="648.7" y2="352.15" stroke="#3a3a3a" stroke-width="0.6" />
<text x="651.9" y="351.25" font-size="7.6" text-anchor="middle" font-family='"Liberation Serif", serif' fill="#3a3a3a" stroke="#3a3a3a" stroke-width="0.22">1</text>
<path d="M654,345.45 L655.6,348.75 L654,352.05" fill="none" stroke="#3a3a3a" stroke-width="0.6"/>
<line x1="657.65" y1="341.88" x2="657.65" y2="348.58" stroke="#3a3a3a" stroke-width="0.6" />
<text x="660.85" y="347.68" font-size="7.6" text-anchor="middle" font-family='"Liberation Serif", serif' fill="#3a3a3a" stroke="#3a3a3a" stroke-width="0.22">2</text>
<path d="M662.95,341.88 L664.55,345.18 L662.95,348.48" fill="none" stroke="#3a3a3a" stroke-width="0.6"/>
<line x1="666.6" y1="338.31" x2="666.6" y2="345.01" stroke="#3a3a3a" stroke-width="0.6" />
<text x="669.8" y="344.11" font-size="7.6" text-anchor="middle" font-family='"Liberation Serif", serif' fill="#3a3a3a" stroke="#3a3a3a" stroke-width="0.22">3</text>
<path d="M671.9,338.31 L673.5,341.61 L671.9,344.91" fill="none" stroke="#3a3a3a" stroke-width="0.6"/>
<line x1="675.55" y1="334.74" x2="675.55" y2="341.44" stroke="#3a3a3a" stroke-width="0.6" />
<text x="678.75" y="340.54" font-size="7.6" text-anchor="middle" font-family='"Liberation Serif", serif' fill="#3a3a3a" stroke="#3a3a3a" stroke-width="0.22">4</text>
<path d="M680.85,334.74 L682.45,338.04 L680.85,341.34" fill="none" stroke="#3a3a3a" stroke-width="0.6"/>
<text x="641.2" y="287" font-size="10.5" font-family='"Liberation Serif", serif' fill="#222" stroke="#222" stroke-width="0.22">&#x03A6;</text>
<text x="649.8" y="282.2" font-size="4.5" font-family='"Liberation Serif", serif' fill="#888" stroke="#888" stroke-width="0.22">&#xB1;</text>
<text x="649.8" y="290.6" font-size="5.6" font-family='"Liberation Serif", serif' fill="#222" stroke="#222" stroke-width="0.22">14</text>
<text x="451.4" y="295.2" font-size="9.1" text-anchor="end" font-family='"Liberation Sans", sans-serif' fill="#2a2a2a" font-weight="normal" font-style="normal"  stroke="#2a2a2a" stroke-width="0.22">1.0</text>
<text x="451.4" y="315.7" font-size="9.1" text-anchor="end" font-family='"Liberation Sans", sans-serif' fill="#2a2a2a" font-weight="normal" font-style="normal"  stroke="#2a2a2a" stroke-width="0.22">0.5</text>
<text x="451.4" y="336.2" font-size="9.1" text-anchor="end" font-family='"Liberation Sans", sans-serif' fill="#2a2a2a" font-weight="normal" font-style="normal"  stroke="#2a2a2a" stroke-width="0.22">0.0</text>
<text font-size="10.7" font-family='"Liberation Serif", serif' fill="#555" transform="translate(437.6,316.6) rotate(-90)" stroke="#555" stroke-width="0.22">|<tspan font-style="italic">&#x03C1;</tspan><tspan font-size="7" dy="-3.4" font-style="italic">&#x03B8;</tspan><tspan dy="3.4">|</tspan></text>
</svg></body></html>
